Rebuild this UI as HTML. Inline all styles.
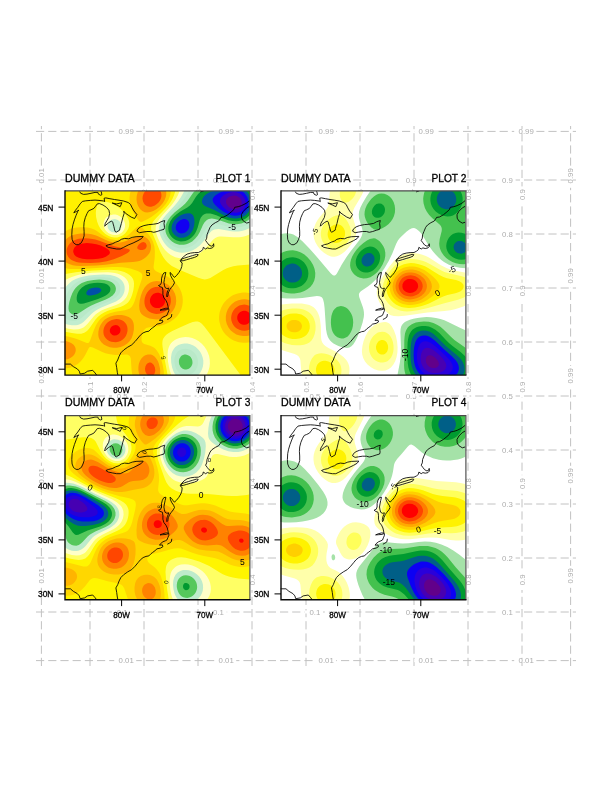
<!DOCTYPE html><html><head><meta charset="utf-8"><title>NCL panel</title>
<style>html,body{margin:0;padding:0;background:#fff}svg{display:block}</style></head><body>
<svg width="612" height="792" viewBox="0 0 612 792">
<defs><clipPath id="clip"><rect x="0" y="0" width="185.0" height="184.2"/></clipPath></defs>
<rect width="612" height="792" fill="#fff"/>
<g stroke="#c2c2c2" stroke-width="1" stroke-dasharray="8.2 4" fill="none"><path d="M36 660.6H576"/><path d="M41.4 666V126"/><path d="M36 612.0H576"/><path d="M90.0 666V126"/><path d="M36 558.0H576"/><path d="M144.0 666V126"/><path d="M36 504.0H576"/><path d="M198.0 666V126"/><path d="M36 450.0H576"/><path d="M252.0 666V126"/><path d="M36 396.0H576"/><path d="M306.0 666V126"/><path d="M36 342.0H576"/><path d="M360.0 666V126"/><path d="M36 288.0H576"/><path d="M414.0 666V126"/><path d="M36 234.0H576"/><path d="M468.0 666V126"/><path d="M36 180.0H576"/><path d="M522.0 666V126"/><path d="M36 131.4H576"/><path d="M570.6 666V126"/></g><g font-family="'Liberation Sans',sans-serif" font-size="7.8" fill="#adadad" text-anchor="middle"><rect x="114.2" y="659.1" width="22.0" height="3" fill="#fff"/><text x="126.2" y="663.3">0.01</text><rect x="39.9" y="565.8" width="3" height="22.0" fill="#fff"/><text transform="translate(44.1 575.8) rotate(-90)">0.01</text><rect x="214.2" y="659.1" width="22.0" height="3" fill="#fff"/><text x="226.2" y="663.3">0.01</text><rect x="39.9" y="465.8" width="3" height="22.0" fill="#fff"/><text transform="translate(44.1 475.8) rotate(-90)">0.01</text><rect x="314.2" y="659.1" width="22.0" height="3" fill="#fff"/><text x="326.2" y="663.3">0.01</text><rect x="39.9" y="365.8" width="3" height="22.0" fill="#fff"/><text transform="translate(44.1 375.8) rotate(-90)">0.01</text><rect x="414.2" y="659.1" width="22.0" height="3" fill="#fff"/><text x="426.2" y="663.3">0.01</text><rect x="39.9" y="265.8" width="3" height="22.0" fill="#fff"/><text transform="translate(44.1 275.8) rotate(-90)">0.01</text><rect x="514.2" y="659.1" width="22.0" height="3" fill="#fff"/><text x="526.2" y="663.3">0.01</text><rect x="39.9" y="165.8" width="3" height="22.0" fill="#fff"/><text transform="translate(44.1 175.8) rotate(-90)">0.01</text><rect x="112.0" y="610.5" width="18.5" height="3" fill="#fff"/><text x="122.2" y="614.7">0.1</text><rect x="88.5" y="571.5" width="3" height="18.5" fill="#fff"/><text transform="translate(92.7 579.8) rotate(-90)">0.1</text><rect x="208.2" y="610.5" width="18.5" height="3" fill="#fff"/><text x="218.5" y="614.7">0.1</text><rect x="88.5" y="475.2" width="3" height="18.5" fill="#fff"/><text transform="translate(92.7 483.5) rotate(-90)">0.1</text><rect x="304.6" y="610.5" width="18.5" height="3" fill="#fff"/><text x="314.8" y="614.7">0.1</text><rect x="88.5" y="378.9" width="3" height="18.5" fill="#fff"/><text transform="translate(92.7 387.2) rotate(-90)">0.1</text><rect x="400.8" y="610.5" width="18.5" height="3" fill="#fff"/><text x="411.1" y="614.7">0.1</text><rect x="88.5" y="282.7" width="3" height="18.5" fill="#fff"/><text transform="translate(92.7 290.9) rotate(-90)">0.1</text><rect x="497.1" y="610.5" width="18.5" height="3" fill="#fff"/><text x="507.4" y="614.7">0.1</text><rect x="88.5" y="186.4" width="3" height="18.5" fill="#fff"/><text transform="translate(92.7 194.6) rotate(-90)">0.1</text><rect x="112.0" y="556.5" width="18.5" height="3" fill="#fff"/><text x="122.2" y="560.7">0.2</text><rect x="142.5" y="571.5" width="3" height="18.5" fill="#fff"/><text transform="translate(146.7 579.8) rotate(-90)">0.2</text><rect x="208.2" y="556.5" width="18.5" height="3" fill="#fff"/><text x="218.5" y="560.7">0.2</text><rect x="142.5" y="475.2" width="3" height="18.5" fill="#fff"/><text transform="translate(146.7 483.5) rotate(-90)">0.2</text><rect x="304.6" y="556.5" width="18.5" height="3" fill="#fff"/><text x="314.8" y="560.7">0.2</text><rect x="142.5" y="378.9" width="3" height="18.5" fill="#fff"/><text transform="translate(146.7 387.2) rotate(-90)">0.2</text><rect x="400.8" y="556.5" width="18.5" height="3" fill="#fff"/><text x="411.1" y="560.7">0.2</text><rect x="142.5" y="282.7" width="3" height="18.5" fill="#fff"/><text transform="translate(146.7 290.9) rotate(-90)">0.2</text><rect x="497.1" y="556.5" width="18.5" height="3" fill="#fff"/><text x="507.4" y="560.7">0.2</text><rect x="142.5" y="186.4" width="3" height="18.5" fill="#fff"/><text transform="translate(146.7 194.6) rotate(-90)">0.2</text><rect x="112.0" y="502.5" width="18.5" height="3" fill="#fff"/><text x="122.2" y="506.7">0.3</text><rect x="196.5" y="571.5" width="3" height="18.5" fill="#fff"/><text transform="translate(200.7 579.8) rotate(-90)">0.3</text><rect x="208.2" y="502.5" width="18.5" height="3" fill="#fff"/><text x="218.5" y="506.7">0.3</text><rect x="196.5" y="475.2" width="3" height="18.5" fill="#fff"/><text transform="translate(200.7 483.5) rotate(-90)">0.3</text><rect x="304.6" y="502.5" width="18.5" height="3" fill="#fff"/><text x="314.8" y="506.7">0.3</text><rect x="196.5" y="378.9" width="3" height="18.5" fill="#fff"/><text transform="translate(200.7 387.2) rotate(-90)">0.3</text><rect x="400.8" y="502.5" width="18.5" height="3" fill="#fff"/><text x="411.1" y="506.7">0.3</text><rect x="196.5" y="282.7" width="3" height="18.5" fill="#fff"/><text transform="translate(200.7 290.9) rotate(-90)">0.3</text><rect x="497.1" y="502.5" width="18.5" height="3" fill="#fff"/><text x="507.4" y="506.7">0.3</text><rect x="196.5" y="186.4" width="3" height="18.5" fill="#fff"/><text transform="translate(200.7 194.6) rotate(-90)">0.3</text><rect x="112.0" y="448.5" width="18.5" height="3" fill="#fff"/><text x="122.2" y="452.7">0.4</text><rect x="250.5" y="571.5" width="3" height="18.5" fill="#fff"/><text transform="translate(254.7 579.8) rotate(-90)">0.4</text><rect x="208.2" y="448.5" width="18.5" height="3" fill="#fff"/><text x="218.5" y="452.7">0.4</text><rect x="250.5" y="475.2" width="3" height="18.5" fill="#fff"/><text transform="translate(254.7 483.5) rotate(-90)">0.4</text><rect x="304.6" y="448.5" width="18.5" height="3" fill="#fff"/><text x="314.8" y="452.7">0.4</text><rect x="250.5" y="378.9" width="3" height="18.5" fill="#fff"/><text transform="translate(254.7 387.2) rotate(-90)">0.4</text><rect x="400.8" y="448.5" width="18.5" height="3" fill="#fff"/><text x="411.1" y="452.7">0.4</text><rect x="250.5" y="282.7" width="3" height="18.5" fill="#fff"/><text transform="translate(254.7 290.9) rotate(-90)">0.4</text><rect x="497.1" y="448.5" width="18.5" height="3" fill="#fff"/><text x="507.4" y="452.7">0.4</text><rect x="250.5" y="186.4" width="3" height="18.5" fill="#fff"/><text transform="translate(254.7 194.6) rotate(-90)">0.4</text><rect x="112.0" y="394.5" width="18.5" height="3" fill="#fff"/><text x="122.2" y="398.7">0.5</text><rect x="304.5" y="571.5" width="3" height="18.5" fill="#fff"/><text transform="translate(308.7 579.8) rotate(-90)">0.5</text><rect x="208.2" y="394.5" width="18.5" height="3" fill="#fff"/><text x="218.5" y="398.7">0.5</text><rect x="304.5" y="475.2" width="3" height="18.5" fill="#fff"/><text transform="translate(308.7 483.5) rotate(-90)">0.5</text><rect x="304.6" y="394.5" width="18.5" height="3" fill="#fff"/><text x="314.8" y="398.7">0.5</text><rect x="304.5" y="378.9" width="3" height="18.5" fill="#fff"/><text transform="translate(308.7 387.2) rotate(-90)">0.5</text><rect x="400.8" y="394.5" width="18.5" height="3" fill="#fff"/><text x="411.1" y="398.7">0.5</text><rect x="304.5" y="282.7" width="3" height="18.5" fill="#fff"/><text transform="translate(308.7 290.9) rotate(-90)">0.5</text><rect x="497.1" y="394.5" width="18.5" height="3" fill="#fff"/><text x="507.4" y="398.7">0.5</text><rect x="304.5" y="186.4" width="3" height="18.5" fill="#fff"/><text transform="translate(308.7 194.6) rotate(-90)">0.5</text><rect x="112.0" y="340.5" width="18.5" height="3" fill="#fff"/><text x="122.2" y="344.7">0.6</text><rect x="358.5" y="571.5" width="3" height="18.5" fill="#fff"/><text transform="translate(362.7 579.8) rotate(-90)">0.6</text><rect x="208.2" y="340.5" width="18.5" height="3" fill="#fff"/><text x="218.5" y="344.7">0.6</text><rect x="358.5" y="475.2" width="3" height="18.5" fill="#fff"/><text transform="translate(362.7 483.5) rotate(-90)">0.6</text><rect x="304.6" y="340.5" width="18.5" height="3" fill="#fff"/><text x="314.8" y="344.7">0.6</text><rect x="358.5" y="378.9" width="3" height="18.5" fill="#fff"/><text transform="translate(362.7 387.2) rotate(-90)">0.6</text><rect x="400.8" y="340.5" width="18.5" height="3" fill="#fff"/><text x="411.1" y="344.7">0.6</text><rect x="358.5" y="282.7" width="3" height="18.5" fill="#fff"/><text transform="translate(362.7 290.9) rotate(-90)">0.6</text><rect x="497.1" y="340.5" width="18.5" height="3" fill="#fff"/><text x="507.4" y="344.7">0.6</text><rect x="358.5" y="186.4" width="3" height="18.5" fill="#fff"/><text transform="translate(362.7 194.6) rotate(-90)">0.6</text><rect x="112.0" y="286.5" width="18.5" height="3" fill="#fff"/><text x="122.2" y="290.7">0.7</text><rect x="412.5" y="571.5" width="3" height="18.5" fill="#fff"/><text transform="translate(416.7 579.8) rotate(-90)">0.7</text><rect x="208.2" y="286.5" width="18.5" height="3" fill="#fff"/><text x="218.5" y="290.7">0.7</text><rect x="412.5" y="475.2" width="3" height="18.5" fill="#fff"/><text transform="translate(416.7 483.5) rotate(-90)">0.7</text><rect x="304.6" y="286.5" width="18.5" height="3" fill="#fff"/><text x="314.8" y="290.7">0.7</text><rect x="412.5" y="378.9" width="3" height="18.5" fill="#fff"/><text transform="translate(416.7 387.2) rotate(-90)">0.7</text><rect x="400.8" y="286.5" width="18.5" height="3" fill="#fff"/><text x="411.1" y="290.7">0.7</text><rect x="412.5" y="282.7" width="3" height="18.5" fill="#fff"/><text transform="translate(416.7 290.9) rotate(-90)">0.7</text><rect x="497.1" y="286.5" width="18.5" height="3" fill="#fff"/><text x="507.4" y="290.7">0.7</text><rect x="412.5" y="186.4" width="3" height="18.5" fill="#fff"/><text transform="translate(416.7 194.6) rotate(-90)">0.7</text><rect x="112.0" y="232.5" width="18.5" height="3" fill="#fff"/><text x="122.2" y="236.7">0.8</text><rect x="466.5" y="571.5" width="3" height="18.5" fill="#fff"/><text transform="translate(470.7 579.8) rotate(-90)">0.8</text><rect x="208.2" y="232.5" width="18.5" height="3" fill="#fff"/><text x="218.5" y="236.7">0.8</text><rect x="466.5" y="475.2" width="3" height="18.5" fill="#fff"/><text transform="translate(470.7 483.5) rotate(-90)">0.8</text><rect x="304.6" y="232.5" width="18.5" height="3" fill="#fff"/><text x="314.8" y="236.7">0.8</text><rect x="466.5" y="378.9" width="3" height="18.5" fill="#fff"/><text transform="translate(470.7 387.2) rotate(-90)">0.8</text><rect x="400.8" y="232.5" width="18.5" height="3" fill="#fff"/><text x="411.1" y="236.7">0.8</text><rect x="466.5" y="282.7" width="3" height="18.5" fill="#fff"/><text transform="translate(470.7 290.9) rotate(-90)">0.8</text><rect x="497.1" y="232.5" width="18.5" height="3" fill="#fff"/><text x="507.4" y="236.7">0.8</text><rect x="466.5" y="186.4" width="3" height="18.5" fill="#fff"/><text transform="translate(470.7 194.6) rotate(-90)">0.8</text><rect x="112.0" y="178.5" width="18.5" height="3" fill="#fff"/><text x="122.2" y="182.7">0.9</text><rect x="520.5" y="571.5" width="3" height="18.5" fill="#fff"/><text transform="translate(524.7 579.8) rotate(-90)">0.9</text><rect x="208.2" y="178.5" width="18.5" height="3" fill="#fff"/><text x="218.5" y="182.7">0.9</text><rect x="520.5" y="475.2" width="3" height="18.5" fill="#fff"/><text transform="translate(524.7 483.5) rotate(-90)">0.9</text><rect x="304.6" y="178.5" width="18.5" height="3" fill="#fff"/><text x="314.8" y="182.7">0.9</text><rect x="520.5" y="378.9" width="3" height="18.5" fill="#fff"/><text transform="translate(524.7 387.2) rotate(-90)">0.9</text><rect x="400.8" y="178.5" width="18.5" height="3" fill="#fff"/><text x="411.1" y="182.7">0.9</text><rect x="520.5" y="282.7" width="3" height="18.5" fill="#fff"/><text transform="translate(524.7 290.9) rotate(-90)">0.9</text><rect x="497.1" y="178.5" width="18.5" height="3" fill="#fff"/><text x="507.4" y="182.7">0.9</text><rect x="520.5" y="186.4" width="3" height="18.5" fill="#fff"/><text transform="translate(524.7 194.6) rotate(-90)">0.9</text><rect x="114.2" y="129.9" width="22.0" height="3" fill="#fff"/><text x="126.2" y="134.1">0.99</text><rect x="569.1" y="565.8" width="3" height="22.0" fill="#fff"/><text transform="translate(573.3 575.8) rotate(-90)">0.99</text><rect x="214.2" y="129.9" width="22.0" height="3" fill="#fff"/><text x="226.2" y="134.1">0.99</text><rect x="569.1" y="465.8" width="3" height="22.0" fill="#fff"/><text transform="translate(573.3 475.8) rotate(-90)">0.99</text><rect x="314.2" y="129.9" width="22.0" height="3" fill="#fff"/><text x="326.2" y="134.1">0.99</text><rect x="569.1" y="365.8" width="3" height="22.0" fill="#fff"/><text transform="translate(573.3 375.8) rotate(-90)">0.99</text><rect x="414.2" y="129.9" width="22.0" height="3" fill="#fff"/><text x="426.2" y="134.1">0.99</text><rect x="569.1" y="265.8" width="3" height="22.0" fill="#fff"/><text transform="translate(573.3 275.8) rotate(-90)">0.99</text><rect x="514.2" y="129.9" width="22.0" height="3" fill="#fff"/><text x="526.2" y="134.1">0.99</text><rect x="569.1" y="165.8" width="3" height="22.0" fill="#fff"/><text transform="translate(573.3 175.8) rotate(-90)">0.99</text></g>
<g transform="translate(64.8 190.9)"><g clip-path="url(#clip)" fill-rule="evenodd"><rect x="0" y="0" width="185.0" height="184.2" fill="#fff000"/><path fill="#ffcb00" d="M66.5 -1.5L66.7 -2.0L106.0 -2.0L106.0 0.0L105.7 2.5L105.3 4.5L103.8 8.5L101.0 13.0L97.5 17.1L92.5 21.7L86.5 26.0L83.0 28.2L79.0 30.2L77.5 30.8L76.0 31.0L75.0 30.7L74.0 29.8L70.5 24.8L67.3 19.0L65.5 14.5L64.8 10.5L64.7 6.5L65.2 2.5ZM73.5 35.5L74.5 35.2L75.5 35.3L76.5 36.0L78.0 37.4L83.0 42.7L85.0 45.1L86.9 48.0L88.3 51.0L89.6 55.5L90.1 60.5L89.9 67.0L88.8 75.5L88.9 77.0L89.5 78.5L90.4 79.5L91.8 80.5L100.5 84.6L104.5 86.8L107.5 88.8L110.0 91.0L112.7 94.0L115.0 97.5L116.7 101.5L117.7 105.5L118.0 108.5L117.9 111.5L117.5 114.5L116.7 117.5L115.7 120.0L114.3 122.5L112.5 125.0L110.5 127.1L108.0 129.2L105.5 130.9L102.5 132.4L99.5 133.7L94.5 135.0L84.5 136.3L81.5 137.2L80.0 138.3L79.0 139.5L78.0 141.5L77.2 144.0L76.8 146.5L76.7 149.0L77.0 150.5L77.9 152.0L79.5 153.0L85.5 154.9L87.5 155.8L89.0 156.7L90.5 157.9L92.0 159.5L94.3 163.0L96.3 168.0L97.9 174.0L99.0 180.5L99.2 186.0L68.2 186.0L67.4 183.0L66.8 179.5L66.0 167.5L65.3 165.5L64.3 164.5L63.0 163.9L61.5 163.7L50.5 164.0L47.0 163.7L44.0 163.2L40.5 162.3L37.5 161.2L28.0 156.6L26.0 156.0L25.0 156.0L24.0 157.0L20.7 163.5L18.6 167.0L16.0 170.3L13.0 173.0L9.5 175.2L6.0 176.5L2.0 177.3L-2.0 177.3L-2.0 144.6L3.2 145.5L8.9 147.0L13.3 148.5L22.0 152.0L23.0 152.2L24.0 151.8L24.5 151.1L25.3 149.5L28.9 139.5L31.1 134.5L32.5 132.0L33.9 130.0L35.5 128.2L37.3 126.5L41.0 124.0L45.0 122.3L50.5 120.8L60.0 119.3L62.5 118.7L65.0 117.6L67.0 115.8L68.5 113.4L69.9 110.0L73.5 98.3L76.9 88.5L77.4 86.5L77.6 85.0L77.3 83.5L76.8 82.5L75.7 81.5L73.5 80.3L70.0 79.0L65.5 77.7L61.5 76.8L57.5 76.3L53.0 76.0L47.5 76.1L15.5 78.0L9.5 78.2L6.0 78.1L3.0 77.8L0.5 77.2L-2.0 76.3L-2.0 42.0L0.5 40.3L3.0 39.0L6.0 37.9L9.0 37.1L12.0 36.6L15.5 36.3L19.0 36.3L22.5 36.6L26.0 37.3L29.5 38.7L32.0 40.2L38.9 45.0L43.5 47.4L46.0 48.3L48.0 48.7L50.5 49.0L52.5 49.0L54.5 48.7L56.5 48.1L58.5 47.3L60.9 46.0L64.2 43.5L71.0 37.1ZM175.3 102.0L178.0 101.7L181.0 101.7L184.0 102.1L187.0 102.8L187.0 150.8L183.5 151.6L181.0 151.9L178.5 151.9L174.0 151.3L169.5 149.9L167.0 148.6L165.0 147.3L163.0 145.7L161.2 144.0L159.5 142.0L158.1 140.0L156.8 137.5L155.9 135.5L154.7 131.0L154.3 128.5L154.3 126.0L154.5 123.5L154.9 121.0L156.5 116.5L157.8 114.0L159.0 112.1L162.2 108.5L166.0 105.5L168.0 104.4L170.5 103.3L173.0 102.5Z"/><path fill="#ff9300" d="M74.3 -1.5L74.6 -2.0L100.8 -2.0L101.3 0.0L101.5 2.0L101.4 4.0L101.0 6.0L99.6 9.5L97.7 12.5L95.0 15.5L92.0 18.0L88.5 20.1L85.5 21.2L82.5 21.6L80.0 21.3L77.5 20.1L75.2 18.0L73.3 15.0L72.2 12.0L71.7 8.5L71.9 5.0L72.8 1.5ZM12.6 43.0L16.0 42.6L20.0 42.5L23.5 42.8L27.0 43.3L32.0 44.9L40.5 48.9L44.0 50.3L48.0 51.4L52.0 51.8L55.5 51.6L59.0 50.9L62.0 49.8L69.0 46.7L72.0 45.7L75.0 45.3L78.0 45.4L80.0 46.0L81.5 46.8L83.0 48.0L84.6 50.0L85.5 52.0L86.1 54.0L86.2 56.0L86.0 58.5L85.4 60.5L84.4 62.5L83.0 64.4L81.0 66.3L79.0 67.8L76.9 69.0L74.5 70.0L72.0 70.6L68.0 71.1L56.0 71.8L40.5 73.8L31.5 74.5L16.0 75.0L11.5 74.8L8.0 74.3L5.0 73.4L2.1 72.0L-0.4 70.0L-2.0 68.0L-2.0 52.3L-0.8 50.5L0.5 49.0L2.1 47.5L4.0 46.2L8.0 44.2ZM88.4 90.5L92.0 90.1L96.0 90.6L99.5 91.8L103.0 93.7L106.0 96.3L108.2 99.0L110.1 102.5L111.1 106.0L111.4 110.0L111.0 113.5L109.8 117.0L108.0 120.2L105.5 123.1L102.5 125.4L99.0 127.1L95.5 128.1L92.0 128.5L88.0 128.2L84.5 127.5L81.0 126.2L78.5 124.7L76.7 123.0L75.4 121.0L74.7 118.5L74.4 114.5L74.9 109.5L76.1 104.5L77.8 100.0L80.0 96.4L82.5 93.6L85.5 91.5ZM177.0 108.5L179.5 108.3L182.0 108.5L184.5 109.1L187.0 110.0L187.0 143.6L184.5 144.5L182.0 145.1L178.5 145.2L175.0 144.7L171.5 143.5L168.5 141.7L166.0 139.5L163.7 136.5L162.0 133.0L161.1 129.5L161.0 125.5L161.6 122.0L162.9 118.5L164.8 115.5L167.1 113.0L170.0 110.9L173.5 109.3ZM49.2 124.5L53.0 124.0L57.0 124.1L60.5 124.8L63.9 126.0L66.1 127.5L67.7 129.5L68.7 132.0L69.1 134.5L69.1 138.5L68.3 143.0L66.9 147.0L65.0 150.1L62.5 152.7L59.5 154.7L56.0 156.2L52.0 156.9L48.5 156.9L45.0 156.3L42.0 155.2L39.0 153.5L36.8 151.5L35.0 149.1L33.9 146.5L33.5 144.0L33.6 140.5L34.4 137.0L35.7 134.0L37.7 131.0L40.0 128.7L42.5 127.0L45.6 125.5ZM-2.0 150.0L-2.0 149.8L-0.5 149.9L2.0 150.3L4.1 151.0L6.3 152.0L7.8 153.0L9.0 154.1L10.0 155.5L10.7 157.0L10.9 158.5L10.9 160.0L10.3 162.0L9.5 163.5L8.3 165.0L7.0 166.2L5.5 167.2L3.5 168.0L1.0 168.5L-2.0 168.4ZM81.3 164.0L83.0 163.6L84.5 163.5L86.0 163.7L87.5 164.2L90.0 165.9L92.1 168.5L93.0 170.1L94.0 172.5L95.1 177.0L95.4 179.5L95.4 182.0L94.8 186.0L75.6 186.0L74.3 183.0L73.6 179.5L73.6 176.0L74.0 173.0L75.1 170.0L76.6 167.5L78.5 165.5L80.0 164.5Z"/><path fill="#ff4a00" d="M82.3 -1.5L83.0 -2.0L93.5 -2.0L95.1 -0.5L96.2 1.5L96.6 3.5L96.6 5.5L96.1 7.5L95.2 9.5L93.7 11.5L92.0 13.2L90.0 14.6L88.0 15.4L86.5 15.8L85.0 15.9L83.5 15.7L82.0 15.1L80.5 14.1L79.5 13.0L78.2 10.5L77.7 7.5L77.9 5.5L78.3 4.0L78.9 2.5L79.8 1.0L81.0 -0.4ZM17.2 47.5L20.5 47.4L24.0 47.5L27.5 48.0L30.5 48.6L34.5 49.8L44.5 53.6L49.5 55.3L54.0 56.4L61.3 57.5L63.5 58.0L64.5 58.5L64.9 59.0L65.0 59.5L64.5 60.5L62.7 62.0L57.1 65.0L49.0 68.3L42.0 70.3L34.5 71.5L25.5 72.0L17.5 71.9L14.1 71.5L11.5 71.0L9.0 70.2L6.7 69.0L4.8 67.5L3.5 66.0L2.5 64.0L1.9 62.0L1.8 60.0L2.0 58.0L2.7 56.0L3.8 54.0L5.0 52.5L7.0 50.8L9.0 49.6L11.5 48.6L14.0 47.9ZM76.8 51.5L78.5 51.2L80.0 51.6L81.0 52.4L81.4 53.0L81.9 54.5L81.7 56.0L80.9 57.5L79.5 58.6L77.5 59.2L75.5 59.1L74.0 58.6L73.0 58.0L72.4 57.0L72.7 55.5L73.6 54.0L75.1 52.5ZM90.8 96.0L93.5 95.9L96.0 96.3L98.5 97.3L101.0 98.9L103.0 100.9L104.4 103.0L105.5 105.5L106.0 108.0L106.0 111.0L105.5 113.5L104.4 116.0L103.1 118.0L101.0 120.0L99.0 121.3L96.5 122.4L94.0 122.9L91.5 123.0L89.0 122.7L86.5 121.9L84.2 120.5L82.5 119.0L81.1 117.0L80.2 115.0L79.7 112.5L79.6 110.0L80.0 107.0L81.0 104.0L82.4 101.5L84.0 99.5L86.0 97.9L88.5 96.6ZM176.8 114.0L179.5 113.7L182.0 114.0L184.5 114.8L187.0 116.2L187.0 137.4L184.5 138.8L182.0 139.6L179.5 139.9L177.0 139.6L174.5 138.9L172.0 137.6L170.1 136.0L168.5 134.0L167.4 132.0L166.6 129.5L166.3 127.0L166.6 124.5L167.3 122.0L168.6 119.5L170.2 117.5L172.1 116.0L174.5 114.7ZM49.1 128.5L51.5 128.2L54.0 128.4L56.5 129.1L58.5 130.1L60.1 131.5L61.5 133.4L62.4 135.5L62.7 137.5L62.7 140.0L62.1 142.5L61.1 145.0L59.6 147.0L58.0 148.6L55.8 150.0L53.5 150.9L51.0 151.3L48.5 151.2L46.5 150.8L44.5 150.1L42.5 148.8L41.0 147.4L39.7 145.5L38.9 143.5L38.6 141.5L38.6 139.5L39.1 137.0L40.0 135.0L41.3 133.0L43.0 131.3L44.9 130.0L47.0 129.1ZM83.5 172.0L84.5 171.7L85.5 171.7L86.5 171.9L87.5 172.5L89.0 174.0L90.1 176.5L90.5 179.5L90.0 182.0L89.5 183.1L88.8 184.0L88.0 184.6L87.0 185.1L86.0 185.2L85.0 185.1L84.0 184.8L83.0 184.2L81.5 182.6L80.5 180.4L80.2 178.0L80.6 175.5L81.6 173.5L82.5 172.6Z"/><path fill="#ff0000" d="M18.0 52.5L22.0 52.2L27.0 52.5L31.5 53.3L36.0 54.6L40.3 56.5L43.3 58.5L44.3 59.5L44.9 60.5L45.1 61.5L44.9 62.5L44.2 63.5L43.5 64.2L41.0 65.8L37.8 67.0L33.5 67.9L28.0 68.3L22.0 68.3L17.5 67.8L14.0 66.9L11.3 65.5L10.2 64.5L9.4 63.5L8.6 61.5L8.4 60.5L8.6 59.0L9.5 56.9L10.2 56.0L11.5 54.9L12.9 54.0L14.5 53.3ZM91.0 102.0L92.5 101.8L94.0 101.9L96.5 102.8L98.0 103.9L98.9 105.0L99.5 106.0L100.1 107.5L100.4 109.0L100.3 110.5L100.0 112.0L99.2 113.5L98.1 115.0L97.0 115.9L94.5 117.0L93.0 117.2L91.5 117.2L90.0 116.8L88.5 116.1L87.5 115.3L86.5 114.2L85.8 113.0L85.3 111.5L85.1 110.0L85.2 108.5L85.6 107.0L86.3 105.5L87.5 104.0L88.5 103.1L89.6 102.5ZM177.6 120.0L179.0 119.8L180.5 119.9L182.0 120.3L183.0 120.8L184.0 121.5L185.0 122.5L185.6 123.5L186.2 125.0L186.4 127.5L186.1 129.0L185.5 130.3L184.0 132.1L182.7 133.0L181.5 133.5L180.0 133.8L178.5 133.8L177.3 133.5L176.0 133.0L174.7 132.0L173.8 131.0L173.0 129.7L172.6 128.5L172.4 127.0L172.5 125.5L172.9 124.0L173.5 123.0L174.3 122.0L175.4 121.0ZM48.7 134.5L51.0 134.2L53.0 134.7L54.5 135.8L55.5 137.5L55.7 139.5L55.2 141.5L54.0 143.0L52.0 144.3L50.0 144.6L49.0 144.5L47.6 144.0L46.0 142.7L45.1 141.0L45.0 139.0L45.7 137.0L46.9 135.5Z"/><path fill="#ffff5f" d="M110.8 -2.0L187.0 -2.0L187.0 73.5L173.0 74.6L168.5 75.4L165.0 76.3L162.0 77.4L158.5 79.1L145.5 87.0L142.5 88.2L140.0 88.5L137.5 88.1L133.5 86.8L114.0 78.7L110.0 76.7L107.0 75.0L104.5 73.2L102.5 71.4L100.5 69.1L98.5 66.3L96.5 62.9L95.0 59.8L90.8 49.5L87.1 41.0L86.4 38.5L86.3 36.0L86.5 34.5L87.1 33.0L87.8 31.5L89.2 29.5L91.9 26.5L101.1 17.0L104.0 13.5L106.1 10.5L107.8 7.5L109.1 4.5L110.1 1.5ZM35.8 11.0L37.0 10.7L38.5 10.5L41.5 10.8L45.0 11.8L49.5 13.8L53.5 16.3L56.5 18.7L59.5 21.7L61.6 24.5L63.3 27.5L64.2 30.0L64.5 32.5L64.3 35.0L63.6 37.5L62.2 40.0L60.2 42.5L58.0 44.3L55.5 45.6L52.5 46.5L49.5 46.6L46.4 46.0L43.5 44.8L40.6 43.0L37.9 40.5L35.5 37.5L33.6 34.0L32.3 30.5L31.3 26.0L31.0 22.0L31.4 18.0L32.4 14.5L33.0 13.4L34.0 12.1ZM39.1 79.0L44.5 78.9L49.0 79.0L52.5 79.4L56.0 80.1L59.5 81.1L62.5 82.5L64.8 84.0L66.9 86.0L68.2 88.0L68.9 90.0L69.2 92.5L69.1 95.5L68.5 99.5L67.4 103.5L66.1 107.0L64.5 109.9L63.2 111.5L62.0 112.7L59.0 114.6L55.5 116.0L47.0 118.5L43.0 119.9L39.3 121.5L36.0 123.5L33.0 126.0L30.7 128.5L25.0 136.8L23.0 139.3L21.5 140.7L19.5 141.9L16.5 142.8L12.5 142.9L7.0 142.2L-2.0 140.4L-2.0 83.5L11.0 81.4L19.5 80.3L28.0 79.6ZM131.0 130.5L133.0 130.6L135.0 131.4L137.0 132.9L139.5 135.7L145.0 142.8L177.2 186.0L103.1 186.0L98.8 162.5L97.8 156.0L97.5 153.0L97.6 151.0L97.9 149.0L98.5 147.5L99.9 145.5L101.5 143.9L104.0 142.1L107.5 140.1L114.5 136.8L124.0 132.6L128.0 131.2Z"/><path fill="#ffffc8" d="M115.7 -2.0L187.0 -2.0L187.0 42.5L184.0 43.9L181.0 45.0L178.0 45.8L174.5 46.3L168.5 46.4L157.0 45.5L154.5 45.7L152.5 46.2L150.5 47.2L148.5 48.7L140.6 57.5L136.5 61.2L134.0 62.9L131.0 64.6L128.5 65.7L125.5 66.7L123.0 67.3L120.0 67.6L117.5 67.6L115.0 67.4L110.5 66.3L108.0 65.2L106.0 64.0L103.0 61.8L100.2 59.0L97.9 56.0L95.5 52.1L93.1 47.0L91.5 42.5L90.8 39.0L90.9 36.0L91.3 34.0L92.1 32.0L94.6 28.0L97.4 24.5L106.5 14.5L110.2 9.5L113.0 4.5ZM46.3 24.0L48.5 23.7L50.5 23.7L52.5 24.2L54.5 25.0L56.0 26.0L57.6 27.5L58.7 29.0L59.7 31.0L60.2 33.0L60.3 35.0L59.9 37.0L59.3 38.5L58.4 40.0L57.1 41.5L55.5 42.7L54.0 43.5L52.0 44.1L50.0 44.2L47.5 43.9L45.5 43.2L43.5 42.0L41.8 40.5L40.5 39.0L39.5 37.0L38.9 35.0L38.7 33.0L39.0 31.0L39.8 29.0L41.0 27.2L42.5 25.8L44.5 24.6ZM33.6 81.5L43.0 81.4L46.5 81.6L50.0 82.2L53.0 82.9L55.5 83.8L57.8 85.0L60.0 86.6L61.8 88.5L63.1 90.5L63.8 92.5L64.3 95.0L64.2 98.0L63.7 101.0L62.7 104.0L61.4 106.5L60.0 108.4L58.5 109.9L57.0 111.1L55.0 112.3L51.2 114.0L39.5 118.3L36.5 119.7L33.5 121.5L31.0 123.4L28.8 125.5L23.0 132.5L21.0 134.6L19.0 136.3L17.0 137.4L15.5 137.9L13.5 138.4L9.0 138.5L3.5 137.8L-2.0 136.2L-2.0 91.2L0.5 89.2L3.5 87.5L7.0 86.0L11.5 84.5L16.0 83.4L21.5 82.5L27.0 81.9ZM116.9 146.5L120.5 146.2L124.0 146.4L127.5 147.2L131.0 148.6L134.0 150.4L137.0 152.8L139.5 155.5L141.5 158.5L143.0 161.5L144.3 165.0L144.9 168.5L145.1 172.5L144.7 176.0L143.7 179.5L142.3 183.0L140.4 186.0L107.2 186.0L106.0 182.9L105.0 179.5L104.1 175.5L103.3 171.0L102.9 167.0L102.8 163.5L103.0 160.5L103.4 158.0L104.1 156.0L105.0 154.0L106.4 152.0L108.0 150.5L110.0 149.0L112.0 148.0L114.5 147.1Z"/><path fill="#c1edcf" d="M120.4 -1.5L120.7 -2.0L187.0 -2.0L187.0 35.7L184.0 37.5L180.5 39.1L177.0 40.0L173.5 40.6L170.0 40.7L166.5 40.4L154.0 38.2L151.5 38.3L149.5 38.7L147.0 39.9L145.0 41.8L138.6 50.5L135.0 54.5L131.5 57.3L128.0 59.4L125.5 60.4L123.0 61.2L120.0 61.7L117.5 61.8L115.0 61.7L112.5 61.2L110.0 60.4L107.5 59.2L104.5 57.3L102.0 55.0L99.5 52.0L97.3 48.5L95.7 45.0L94.6 41.5L94.3 38.0L94.6 35.0L95.9 31.5L98.2 27.5L101.5 23.5L109.9 14.5L113.2 10.5L116.2 6.0ZM47.5 28.5L50.0 28.2L52.5 28.8L53.7 29.5L54.9 30.5L56.2 32.5L56.5 33.5L56.7 35.0L56.5 36.5L56.2 37.5L54.9 39.5L53.7 40.5L52.5 41.1L50.0 41.6L48.5 41.4L47.0 41.0L44.8 39.5L44.0 38.5L43.1 37.0L42.8 36.0L42.7 34.5L42.9 33.0L43.3 32.0L44.0 30.9L45.0 29.8L46.3 29.0ZM29.6 84.0L38.5 83.7L42.0 83.8L45.5 84.2L48.5 84.9L51.0 85.7L53.5 86.8L55.3 88.0L57.0 89.6L58.4 91.5L59.3 93.5L59.8 95.5L59.9 98.0L59.6 100.5L58.7 103.0L57.6 105.0L56.4 106.5L54.9 108.0L51.2 110.5L47.5 112.2L36.6 116.5L33.6 118.0L31.0 119.5L28.9 121.0L26.6 123.0L19.0 130.8L17.0 132.3L15.0 133.3L13.0 134.0L11.0 134.4L7.0 134.4L2.4 133.5L0.0 132.6L-2.0 131.5L-2.0 100.7L-0.1 97.5L2.2 94.5L4.7 92.0L7.5 89.9L11.0 88.0L15.0 86.5L19.0 85.5L24.0 84.6ZM116.6 153.0L119.5 152.6L122.5 152.7L125.5 153.4L128.5 154.6L131.0 156.2L133.5 158.5L135.5 161.0L136.8 163.5L137.9 166.5L138.5 169.5L138.5 172.5L138.1 175.5L137.1 178.5L135.6 181.5L133.6 184.0L131.5 186.0L112.3 186.0L110.5 183.8L108.9 181.0L107.3 176.5L106.4 171.5L106.2 166.5L106.8 162.5L107.5 160.6L108.3 159.0L109.3 157.5L110.5 156.2L112.0 155.0L113.5 154.1Z"/><path fill="#b9e9c8" d="M125.6 -1.5L126.0 -2.0L187.0 -2.0L187.0 30.7L184.0 32.9L180.5 34.8L176.5 36.0L172.5 36.6L169.0 36.6L165.0 36.1L155.0 33.5L152.0 32.8L149.5 32.7L147.0 33.0L145.0 33.9L143.0 35.6L141.0 38.2L137.1 45.0L134.5 48.7L131.4 52.0L129.5 53.5L127.5 54.8L125.5 55.8L123.0 56.7L120.5 57.3L118.0 57.6L115.5 57.5L113.0 57.1L110.5 56.3L108.5 55.4L105.5 53.4L103.0 51.1L100.9 48.5L99.2 45.5L98.1 42.5L97.5 39.5L97.5 36.5L98.2 33.5L99.7 30.0L102.4 26.0L106.0 21.9L113.7 14.5L116.9 11.0L119.2 8.0L123.5 1.4ZM48.9 34.0L50.0 33.8L50.6 34.0L51.2 34.5L51.5 35.5L51.0 36.6L50.3 37.0L49.5 37.0L48.5 36.5L48.1 35.5L48.1 35.0L48.3 34.5ZM28.1 86.5L35.5 86.1L42.0 86.5L44.5 86.9L47.0 87.6L49.3 88.5L51.0 89.5L52.5 90.7L53.7 92.0L54.6 93.5L55.4 95.5L55.6 97.5L55.5 99.5L54.9 101.5L54.0 103.3L53.0 104.7L51.7 106.0L50.0 107.4L48.0 108.6L44.1 110.5L33.0 115.0L27.5 118.0L23.4 121.0L17.0 126.8L14.0 128.7L11.0 129.8L8.0 130.0L5.0 129.5L2.0 128.2L0.5 127.1L-0.5 126.1L-2.0 123.6L-2.0 113.8L-0.9 110.5L0.8 106.0L2.7 102.0L4.3 99.0L6.1 96.5L8.3 94.0L10.8 92.0L13.3 90.5L16.5 89.0L19.8 88.0L23.5 87.2ZM118.5 158.0L121.0 157.9L123.5 158.3L126.0 159.2L128.0 160.5L130.0 162.4L131.5 164.5L132.4 166.5L133.1 169.0L133.3 171.5L133.0 174.0L132.3 176.5L130.9 179.0L129.2 181.0L127.0 182.7L125.0 183.7L122.5 184.3L120.0 184.4L118.0 184.0L116.0 183.1L114.0 181.5L112.5 179.7L111.3 177.5L110.4 175.0L109.8 172.5L109.6 169.5L109.8 167.0L110.5 164.6L111.5 162.6L113.0 160.7L114.5 159.5L116.5 158.5Z"/><path fill="#50c65a" d="M131.5 -1.5L132.1 -2.0L187.0 -2.0L187.0 26.0L184.0 28.9L180.5 31.1L176.5 32.7L172.0 33.3L168.0 33.2L164.0 32.5L160.5 31.4L153.0 28.8L150.0 28.0L147.0 27.7L144.0 28.1L142.5 28.8L141.5 29.5L139.6 31.5L138.1 34.0L135.0 41.0L133.0 44.5L130.5 47.7L127.4 50.5L125.5 51.7L123.5 52.7L121.5 53.4L119.0 53.8L116.5 53.9L114.5 53.8L112.0 53.1L110.0 52.3L107.5 50.8L105.0 48.6L103.0 46.1L101.7 43.5L100.8 41.0L100.5 38.0L100.7 35.0L101.5 32.5L103.2 29.0L106.0 25.4L110.0 21.4L117.8 15.0L120.5 12.5L123.0 9.5L128.2 2.0ZM28.8 89.0L34.5 88.7L39.5 89.0L43.5 89.8L45.4 90.5L47.0 91.3L48.5 92.5L49.5 93.5L50.2 94.5L50.8 96.0L51.1 97.5L51.0 99.0L50.6 100.5L49.9 102.0L47.8 104.5L44.5 106.9L41.0 108.6L31.0 112.5L26.0 114.8L22.0 117.0L15.5 121.4L13.5 122.6L11.5 123.4L9.5 123.7L8.0 123.5L6.5 122.9L5.0 121.6L4.1 120.0L3.7 117.5L3.8 115.0L4.5 111.0L6.0 106.0L7.6 102.0L9.3 99.0L10.8 97.0L12.8 95.0L14.7 93.5L17.0 92.2L19.7 91.0L22.5 90.1ZM118.3 164.0L119.5 163.7L121.0 163.7L122.5 164.0L123.7 164.5L125.0 165.4L126.0 166.4L126.7 167.5L127.4 169.0L127.6 170.5L127.7 172.0L127.4 173.5L126.7 175.0L126.0 176.1L125.0 177.1L124.0 177.8L122.5 178.4L121.5 178.6L120.0 178.6L118.5 178.2L117.5 177.6L115.8 176.0L114.5 173.5L114.2 172.0L114.1 170.5L114.2 169.0L114.7 167.5L116.0 165.5L117.0 164.7Z"/><path fill="#009434" d="M139.6 -1.5L140.7 -2.0L183.1 -2.0L185.4 0.5L187.0 3.0L187.0 20.9L185.7 23.0L184.0 25.0L182.3 26.5L180.5 27.8L178.5 28.8L176.0 29.7L174.0 30.2L171.5 30.4L167.5 30.2L163.5 29.3L159.5 27.8L151.5 24.3L147.5 23.0L145.5 22.7L143.5 22.5L141.5 22.7L140.0 23.1L139.0 23.6L137.7 24.5L136.1 26.5L135.0 29.2L132.9 36.5L131.5 40.0L130.5 42.0L129.2 44.0L126.5 46.9L124.5 48.3L122.5 49.4L120.5 50.1L118.5 50.4L116.0 50.5L114.0 50.2L112.0 49.6L110.0 48.6L107.9 47.0L106.1 45.0L104.8 43.0L103.9 40.5L103.5 38.0L103.6 35.5L104.3 33.0L105.5 30.3L108.0 26.9L111.5 23.6L115.5 20.7L122.5 16.5L125.1 14.5L127.3 12.0L131.0 6.0L133.3 3.0L136.1 0.5ZM29.1 92.0L33.0 91.8L37.0 92.0L40.0 92.6L42.5 93.6L44.3 95.0L45.0 96.0L45.5 97.0L45.6 99.0L44.9 101.0L43.1 103.0L41.0 104.6L38.0 106.1L33.2 108.0L24.0 111.1L19.0 112.5L17.0 112.9L15.5 112.9L14.5 112.7L13.5 112.1L12.6 111.0L12.2 110.0L11.9 108.5L11.9 106.5L12.2 104.5L12.8 102.5L13.8 100.5L14.8 99.0L17.2 96.5L20.5 94.4L24.5 92.9Z"/><path fill="#0050a8" d="M152.7 -1.5L154.4 -2.0L178.6 -2.0L180.0 -1.0L182.3 1.0L184.1 3.5L185.6 6.5L186.3 9.5L186.5 13.0L186.0 16.0L184.9 19.0L183.3 21.5L182.0 23.1L180.4 24.5L178.5 25.7L176.5 26.6L174.5 27.2L172.0 27.6L170.0 27.7L167.5 27.4L164.0 26.5L160.5 25.1L149.5 19.2L141.2 15.5L138.7 14.0L137.5 12.4L137.2 11.5L137.1 10.0L137.8 7.5L139.4 5.0L141.8 3.0L144.4 1.5L148.1 0.0ZM121.2 22.5L124.0 22.3L126.0 22.6L127.5 23.5L128.6 25.0L129.4 27.5L129.7 30.5L129.4 34.0L128.7 37.0L127.8 39.5L126.5 41.6L124.9 43.5L123.0 45.1L121.0 46.1L118.5 46.8L116.0 46.9L114.0 46.5L112.0 45.7L110.5 44.7L109.0 43.2L107.9 41.5L107.2 40.0L106.8 38.0L106.8 36.0L107.2 34.0L108.0 32.0L109.2 30.0L110.5 28.4L112.5 26.6L114.5 25.2L116.5 24.1L119.0 23.1ZM27.5 97.0L31.0 96.5L34.0 96.9L35.4 97.5L36.0 98.0L36.4 98.5L36.5 99.5L36.0 100.5L35.0 101.5L33.4 102.5L31.0 103.5L28.5 104.2L26.0 104.6L24.0 104.5L22.5 104.0L21.9 103.5L21.5 102.5L21.6 101.5L22.3 100.0L23.3 99.0L24.5 98.2Z"/><path fill="#1200f2" d="M164.5 -1.5L167.5 -1.8L170.5 -1.8L173.0 -1.3L175.4 -0.5L177.5 0.6L179.5 2.2L181.1 4.0L182.4 6.0L183.3 8.5L183.7 11.0L183.7 13.5L183.1 16.0L182.0 18.5L180.5 20.5L178.5 22.4L176.5 23.6L173.5 24.6L170.0 24.9L166.5 24.4L163.0 23.2L159.0 21.0L154.2 17.5L150.4 14.0L149.2 12.5L148.3 11.0L147.8 9.0L148.1 7.5L149.4 5.5L151.1 4.0L154.3 2.0L157.6 0.5L161.0 -0.7ZM117.3 28.5L118.5 28.2L120.0 28.2L121.5 28.5L122.5 29.1L123.5 30.1L124.2 31.5L124.6 33.0L124.6 34.5L124.4 36.0L123.9 37.5L123.1 39.0L122.0 40.4L121.0 41.2L119.5 42.0L118.0 42.4L116.5 42.5L114.5 42.0L113.5 41.5L112.4 40.5L111.2 38.5L111.0 37.5L110.9 36.0L111.5 33.6L112.8 31.5L115.0 29.6Z"/><path fill="#3e00be" d="M165.2 1.5L167.5 1.2L169.5 1.1L171.5 1.4L173.7 2.0L175.5 2.9L177.1 4.0L178.5 5.5L179.5 7.0L180.2 8.5L180.6 10.5L180.7 12.5L180.4 14.5L179.6 16.5L178.6 18.0L177.2 19.5L175.5 20.6L173.0 21.6L170.5 21.9L168.0 21.7L165.5 21.0L162.5 19.5L159.8 17.5L157.8 15.5L156.0 13.0L155.3 11.0L155.2 9.5L155.5 8.0L156.4 6.5L157.8 5.0L159.9 3.5L162.5 2.3Z"/><path fill="#62008c" d="M166.8 5.0L169.5 4.7L172.0 5.2L174.4 6.5L175.4 7.5L176.1 8.5L176.6 9.5L176.9 11.0L176.9 12.5L176.7 13.5L176.4 14.5L175.5 15.9L174.5 16.8L173.5 17.5L172.0 18.0L170.5 18.2L169.0 18.2L167.5 17.8L165.6 17.0L164.1 16.0L163.0 14.9L162.0 13.5L161.5 12.5L161.2 11.0L161.3 9.5L161.7 8.5L162.4 7.5L163.5 6.5L165.0 5.6Z"/></g><g clip-path="url(#clip)" fill="none" stroke="#000" stroke-width="0.85" stroke-linejoin="round"><path d="M11.3 53.8L8.7 51.9L7.3 48.4L7.0 43.9L7.3 38.1L8.2 33.6L9.6 29.0L11.3 24.4L13.0 20.4L14.0 19.3L11.9 20.4L9.0 21.9L10.7 19.3L13.0 16.4L15.3 13.0L17.6 10.5L21.0 9.9L25.6 9.5L30.2 9.2L34.2 9.5L38.8 10.1L39.9 10.7L39.3 7.3L41.1 7.0L45.1 7.8L49.6 8.6L54.2 9.3L58.8 10.1L63.4 11.6L65.7 13.5L67.4 17.0L69.2 20.1L72.1 23.7L69.8 27.6L66.4 26.2L63.4 24.2L60.5 22.2L59.0 20.3L59.3 22.7L58.0 26.6L56.6 32.5L55.1 37.4L54.8 39.3L51.4 41.3L50.2 40.4L49.1 35.8L47.9 31.3L46.8 30.1L43.9 31.8L41.1 34.1L39.9 35.3L40.5 32.4L42.2 29.6L43.9 26.7L44.8 22.7L44.1 19.3L41.6 16.4L38.2 14.1L34.8 12.7L32.5 13.0L30.8 15.3L29.1 17.5L26.2 18.9L23.9 19.8L22.2 22.7L20.5 26.7L19.3 31.3L19.0 35.8L19.3 40.4L19.3 45.0L18.2 48.4L16.5 51.9L13.6 53.8ZM47.4 12.1L51.9 13.0L57.1 11.8L55.4 15.8L51.9 14.1ZM14.8 0.6L15.9 2.4L18.8 3.5L22.2 3.2L26.2 2.4L30.2 1.5L33.1 1.5L33.6 3.2L35.9 4.4L37.1 3.8L36.5 1.0L35.9 0.0M41.1 54.9L43.9 53.8L47.4 53.0L50.8 51.3L54.2 50.1L56.5 48.4L59.9 47.5L63.9 47.9L67.4 46.5L71.3 45.8L78.4 45.5L76.7 47.7L73.2 49.7L68.3 52.1L63.4 54.1L58.5 56.6L55.4 58.1L51.9 58.1L47.4 57.3L43.3 56.4ZM72.1 40.2L73.2 37.9L75.7 36.0L79.1 34.7L84.0 33.7L88.9 33.3L93.3 32.5L96.3 30.8L99.9 29.6L99.2 32.5L99.7 36.5L99.2 38.4L95.8 39.4L92.3 40.6L88.9 41.4L86.0 40.6L82.1 40.6L78.1 41.2L74.7 41.8ZM185.0 9.5L181.4 12.4L176.8 14.7L173.4 15.8L169.9 16.4L169.0 18.7L166.5 21.0L163.1 23.8L159.1 26.1L156.2 26.5L155.1 28.4L153.9 30.1L150.5 31.8L147.1 34.1L145.3 36.4L143.6 40.4L142.2 43.9L141.9 47.3L140.8 49.6L142.5 51.9L144.2 54.1L146.5 55.3L148.2 54.7L148.8 52.8L149.1 55.3L147.6 57.0L144.8 57.6L142.5 57.0L140.8 58.1L138.5 56.4L138.0 58.8L136.1 60.3L133.6 61.6L129.7 61.7L125.8 62.2L122.3 63.2L119.4 65.2L117.0 67.6L115.5 69.6L116.0 71.1L117.4 72.0L117.0 75.5L116.0 78.4L114.0 81.8L111.6 84.8L109.6 86.5L108.1 84.8L106.7 82.8L105.2 81.6L105.7 84.3L107.1 87.2L108.8 89.6L109.7 91.9L108.4 94.3L106.5 96.7L105.0 98.7L103.5 102.1L103.0 105.1L102.1 106.1L101.9 104.1L102.5 101.2L103.5 98.7L104.0 97.2L102.1 97.7L100.3 96.7L99.6 94.3L99.1 91.4L99.6 88.4L100.3 85.0L101.1 81.6L99.1 82.0L97.6 84.5L96.7 87.9L96.7 91.4L95.7 93.8L93.7 94.6L95.2 95.8L97.6 96.6L98.1 99.7L98.1 103.6L99.1 107.0L101.1 109.5L102.5 112.4L103.2 115.4L103.5 117.5L101.1 117.3L97.6 118.3L95.2 119.3L98.1 119.1L101.6 118.8L104.0 117.8L104.0 119.8L103.0 122.2L102.1 124.4L100.6 125.2L98.1 126.2L95.7 128.1L94.7 129.6L97.6 129.3L98.1 131.1L95.7 132.5L92.2 133.2L90.3 135.0L87.8 136.9L86.3 138.0L84.1 140.3L81.2 140.8L78.3 142.0L75.5 144.3L73.2 147.1L70.3 150.6L66.9 154.0L62.9 156.3L58.9 159.1L56.0 162.0L54.3 165.4L52.9 169.1L51.1 172.3L51.9 176.8L52.5 181.4L53.1 184.2M107.0 123.2L106.5 126.2L104.5 127.6L102.5 128.6M117.0 68.1L119.9 67.1L123.8 65.9L127.7 64.7L131.7 63.5L133.4 63.7L132.6 65.2L129.7 66.5L125.8 67.6L121.9 68.8L118.4 69.8L116.0 70.1ZM185.0 15.3L181.9 17.0L178.5 20.4L176.6 23.8L176.8 27.3L178.5 30.1L181.9 32.2L185.0 31.3M0.0 173.2L5.6 173.2L8.5 175.7L12.5 178.0L14.5 180.3L15.3 183.1L19.9 182.3L22.8 180.3L27.9 179.4L30.2 182.0L31.9 184.2M135.6 1.0L139.0 0.0"/></g><g font-family="'Liberation Sans',sans-serif" font-size="8.5" fill="#000" text-anchor="middle"><text transform="translate(18.5 79.5) rotate(0)" y="3.1" font-size="8.5">5</text><text transform="translate(83.2 82.1) rotate(0)" y="3.1" font-size="8.5">5</text><text transform="translate(9.5 125.1) rotate(0)" y="3.1" font-size="8.5">-5</text><text transform="translate(167.3 35.6) rotate(0)" y="3.1" font-size="8.5">-5</text><text transform="translate(98.6 166.8) rotate(-100)" y="2.2" font-size="6.0">5</text></g></g><g transform="translate(65.0 190.9)"><path d="M0 0H184.9V184.2" fill="none" stroke="#4a4a4a" stroke-width="1.15"/><path d="M0 -0.6V184.2H185.5" fill="none" stroke="#0a0a0a" stroke-width="1.4"/><g stroke="#000" stroke-width="1"><path d="M-6.5 16.2H0"/><path d="M-6.5 70.2H0"/><path d="M-6.5 124.3H0"/><path d="M-6.5 178.3H0"/><path d="M56.6 184.2V190.5"/><path d="M139.8 184.2V190.5"/></g><g font-family="'Liberation Sans',sans-serif" fill="#000" stroke="#000" stroke-width="0.3"><text x="-27" y="19.8" font-size="9" textLength="15.4" lengthAdjust="spacingAndGlyphs">45N</text><text x="-27" y="73.8" font-size="9" textLength="15.4" lengthAdjust="spacingAndGlyphs">40N</text><text x="-27" y="127.8" font-size="9" textLength="15.4" lengthAdjust="spacingAndGlyphs">35N</text><text x="-27" y="181.9" font-size="9" textLength="15.4" lengthAdjust="spacingAndGlyphs">30N</text><text x="48.3" y="202.6" font-size="9" textLength="16.6" lengthAdjust="spacingAndGlyphs">80W</text><text x="131.5" y="202.6" font-size="9" textLength="16.6" lengthAdjust="spacingAndGlyphs">70W</text><text x="0" y="-9.2" font-size="10.7" textLength="69.7" lengthAdjust="spacingAndGlyphs">DUMMY DATA</text><text x="150.5" y="-9.2" font-size="10.7" textLength="34.8" lengthAdjust="spacingAndGlyphs">PLOT 1</text></g></g>
<g transform="translate(280.4 190.9)"><g clip-path="url(#clip)" fill-rule="evenodd"><rect x="0" y="0" width="185.0" height="184.2" fill="#ffffff"/><path fill="#ffffaa" d="M49.9 -2.0L83.7 -2.0L82.8 1.0L81.4 4.0L79.5 7.5L74.1 16.5L73.0 19.0L72.4 21.0L72.2 23.5L72.5 26.5L75.2 35.5L75.9 39.5L76.0 41.5L75.7 43.5L74.6 47.0L73.1 50.0L70.7 53.5L67.5 57.4L64.5 60.5L61.5 62.9L59.0 64.4L56.5 65.4L54.0 65.8L52.5 65.8L50.5 65.5L47.0 64.2L43.5 61.9L40.3 59.0L37.5 55.5L35.1 51.5L33.6 47.5L33.0 43.5L33.0 40.5L33.5 37.5L34.4 34.5L35.7 31.5L37.2 29.0L39.0 26.5L45.8 18.5L47.0 16.6L47.8 15.0L48.6 11.5L49.2 2.5ZM127.8 62.5L131.5 62.2L135.0 62.4L138.5 62.9L142.0 63.8L145.5 65.1L148.5 66.7L160.5 74.3L163.5 75.9L166.5 77.3L170.0 78.6L173.5 79.5L187.0 82.2L187.0 113.7L183.0 115.5L178.5 117.2L174.5 118.4L170.0 119.3L164.0 120.2L147.0 121.7L124.5 124.9L118.0 125.4L113.5 125.2L110.5 124.3L109.0 123.5L107.5 122.4L104.5 119.3L101.6 115.5L99.2 111.5L97.6 108.0L96.6 104.5L96.3 101.5L96.6 98.5L97.3 95.5L99.5 90.5L103.3 84.0L109.0 75.7L113.5 70.2L116.5 67.3L120.0 65.0L124.0 63.3ZM6.1 113.0L11.5 112.6L17.0 112.5L21.5 112.7L25.5 113.3L29.0 114.2L31.5 115.3L33.5 116.6L35.4 118.5L36.8 120.5L38.0 123.0L38.9 125.5L39.6 128.5L40.4 135.0L40.7 147.0L41.1 149.5L41.9 151.5L43.3 153.5L45.0 155.0L48.1 157.0L56.0 161.2L59.8 163.5L63.1 166.0L65.9 169.0L66.9 170.5L67.9 172.5L68.6 174.5L69.0 176.5L69.1 178.5L69.0 181.0L68.6 183.5L67.9 186.0L22.1 186.0L21.3 183.0L20.8 180.0L20.0 169.5L19.5 167.5L18.3 165.5L16.5 164.1L14.2 163.0L3.5 159.8L-2.0 157.7L-2.0 114.5L1.5 113.7ZM100.8 131.5L104.0 131.1L105.5 131.2L107.0 131.6L108.5 132.4L109.5 133.2L111.5 135.5L113.6 139.5L115.5 144.8L116.7 150.5L117.2 156.5L117.0 161.5L116.2 166.0L114.9 170.0L113.0 173.6L110.5 176.5L108.0 178.3L105.0 179.5L101.5 179.9L98.0 179.5L94.0 178.3L90.5 176.3L87.1 173.5L84.6 170.5L82.8 167.0L81.8 163.5L81.5 160.0L82.0 155.0L83.2 150.0L85.2 145.0L87.5 140.9L90.5 137.2L93.5 134.7L97.0 132.7Z"/><path fill="#ffff5a" d="M60.4 -2.0L76.0 -2.0L76.0 -0.5L75.5 1.7L74.6 4.0L73.4 6.0L71.8 8.0L70.0 9.6L68.0 11.0L66.0 11.7L64.5 11.8L63.0 11.3L62.0 10.5L60.9 9.0L59.8 6.5L59.4 4.5L59.4 2.0L59.7 0.0ZM55.8 24.5L58.5 24.0L60.0 24.1L61.0 24.4L63.0 25.7L65.0 27.7L67.5 31.4L69.5 35.5L70.4 39.0L70.6 42.5L70.1 45.5L68.8 48.5L67.0 51.4L64.7 54.0L62.0 56.3L59.5 57.7L57.0 58.5L54.0 58.7L51.0 58.2L48.5 57.1L46.0 55.3L44.0 53.2L42.2 50.5L41.2 48.0L40.5 45.0L40.4 42.0L40.9 39.0L41.8 36.5L43.1 34.0L45.0 31.5L47.5 29.1L50.0 27.3L53.0 25.6ZM127.0 68.5L130.5 68.2L134.5 68.3L138.0 68.9L142.0 69.9L145.5 71.2L148.5 72.6L159.5 78.9L164.0 81.0L169.5 82.7L181.5 85.3L184.5 86.3L187.0 87.6L187.0 104.3L185.0 105.7L183.0 106.8L177.5 108.9L164.0 112.4L147.5 117.2L137.5 119.4L130.0 120.4L126.5 120.5L123.5 120.3L120.5 119.9L118.0 119.2L115.5 118.2L113.5 117.2L110.5 115.0L107.9 112.5L105.6 109.5L103.7 106.0L102.7 103.0L102.1 99.5L102.1 96.5L102.8 93.0L104.4 88.5L106.9 84.0L110.0 79.5L113.5 75.5L116.5 72.9L120.0 70.7L123.5 69.3ZM12.0 117.5L16.0 117.5L19.5 117.8L23.0 118.6L26.0 119.8L28.5 121.3L30.5 123.0L32.5 125.5L33.7 128.0L34.8 131.5L35.2 135.0L35.1 139.0L34.3 143.0L33.0 146.5L31.1 149.5L29.0 151.5L26.5 152.9L23.5 153.8L20.0 154.3L16.0 154.4L11.5 154.0L7.5 153.2L4.0 152.1L1.0 150.7L-2.0 148.7L-2.0 121.8L1.0 120.1L4.0 118.9L8.0 118.0ZM99.8 141.0L102.0 140.8L104.5 141.2L106.5 142.0L108.5 143.6L110.1 145.5L111.5 148.0L112.5 151.0L113.1 154.5L113.2 158.0L112.8 161.0L112.0 163.9L110.7 166.5L109.0 168.7L107.0 170.3L105.0 171.2L102.5 171.7L100.0 171.6L97.5 170.9L95.0 169.6L93.1 168.0L91.4 166.0L90.0 163.6L89.1 161.0L88.7 158.5L88.6 155.5L89.1 152.5L90.1 149.5L91.5 147.0L93.0 145.0L95.3 143.0L97.5 141.7ZM38.7 162.5L41.0 162.3L43.5 162.6L46.0 163.1L48.5 163.9L51.0 165.0L53.5 166.5L55.5 168.0L57.1 169.5L58.7 171.5L59.8 173.5L60.5 175.5L60.9 177.5L61.1 179.5L60.9 182.0L60.4 184.0L59.6 186.0L30.3 186.0L29.1 182.5L28.6 179.0L28.8 175.0L29.8 171.0L31.5 167.5L33.5 165.0L34.5 164.2L36.0 163.3Z"/><path fill="#fff200" d="M55.3 33.5L57.0 33.4L58.5 33.6L60.0 34.2L61.5 35.2L63.0 36.9L63.9 38.5L64.5 40.2L64.7 42.0L64.6 44.0L64.2 45.5L63.2 47.5L62.1 49.0L60.5 50.4L59.0 51.3L57.5 51.8L55.5 52.1L54.0 51.9L52.5 51.5L51.0 50.7L49.7 49.5L48.8 48.5L48.0 47.0L47.5 45.5L47.2 43.5L47.4 41.5L47.8 40.0L48.4 38.5L49.4 37.0L50.5 35.9L52.0 34.8L53.5 34.0ZM127.1 72.5L130.5 72.2L134.0 72.4L137.5 73.0L141.0 74.0L144.5 75.4L147.7 77.0L158.5 83.8L163.0 86.1L166.5 87.3L175.5 89.2L179.0 90.3L181.1 91.5L182.6 93.0L183.1 94.0L183.3 95.0L183.0 97.0L182.1 98.5L181.1 99.5L179.7 100.5L178.0 101.4L175.0 102.4L167.0 104.2L163.5 105.3L160.0 106.8L148.6 112.5L144.5 114.1L140.5 115.4L134.5 116.7L128.5 117.1L123.5 116.6L121.0 116.0L118.5 115.1L115.5 113.5L112.9 111.5L110.5 109.0L108.4 106.0L107.0 103.0L106.1 99.5L106.0 96.5L106.3 93.0L107.4 89.5L109.3 85.5L111.6 82.0L114.3 79.0L117.0 76.7L120.0 74.8L123.5 73.3ZM13.2 122.5L16.0 122.6L18.6 123.0L21.0 123.7L23.5 125.0L25.5 126.5L27.0 128.1L28.2 130.0L29.1 132.5L29.4 135.0L29.3 137.5L28.6 140.0L27.5 142.1L26.0 144.0L24.0 145.6L21.5 146.9L19.0 147.7L15.5 148.2L12.0 148.1L8.5 147.3L5.5 146.1L2.9 144.5L0.7 142.5L-1.0 140.0L-1.9 137.5L-2.0 133.2L-1.7 132.0L-0.6 129.5L1.4 127.0L4.0 125.1L6.5 123.8L9.5 122.9ZM99.6 149.5L101.0 149.1L102.0 149.0L103.5 149.3L104.5 149.8L105.5 150.6L106.5 151.9L107.5 154.4L107.7 156.0L107.7 157.5L107.0 160.1L106.5 161.0L105.5 162.2L104.5 163.0L103.0 163.6L102.0 163.7L100.5 163.5L98.5 162.5L97.0 161.0L95.9 158.5L95.6 157.0L95.6 155.5L96.3 153.0L97.6 151.0L98.5 150.2ZM41.9 170.0L43.5 169.8L45.0 169.8L48.0 170.5L49.5 171.3L51.0 172.4L52.0 173.5L53.0 174.9L53.7 176.5L54.1 178.0L54.2 179.5L54.0 181.0L53.0 183.7L51.2 186.0L38.7 186.0L37.8 185.0L36.7 183.5L35.9 181.5L35.5 179.5L35.6 177.5L36.1 175.5L37.0 173.6L38.3 172.0L40.0 170.8Z"/><path fill="#ffcf00" d="M125.9 76.0L129.0 75.6L132.0 75.6L135.0 75.9L138.0 76.7L141.0 77.8L144.0 79.2L146.9 81.0L149.6 83.0L152.5 85.5L155.5 88.5L157.5 91.0L158.6 93.0L159.1 95.0L159.0 96.5L158.2 98.5L156.8 100.5L154.6 103.0L152.4 105.0L147.5 108.6L145.0 110.1L142.0 111.5L139.0 112.6L136.0 113.4L133.0 113.9L130.5 114.1L127.5 114.0L125.0 113.7L122.5 113.1L120.0 112.1L118.0 111.1L116.0 109.7L114.0 107.8L112.1 105.5L111.0 103.5L110.0 101.0L109.4 98.5L109.2 96.0L109.4 93.5L110.0 91.0L110.9 88.5L112.2 86.0L113.9 83.5L116.0 81.2L118.1 79.5L120.5 78.0L123.0 76.8ZM12.6 129.0L15.5 129.0L18.0 129.9L20.0 131.3L21.1 133.0L21.5 134.3L21.6 135.5L21.1 137.5L20.0 139.0L18.0 140.5L16.5 141.1L15.0 141.3L13.5 141.4L11.5 141.0L10.0 140.5L8.5 139.6L7.4 138.5L6.8 137.5L6.2 136.0L6.2 134.5L6.5 133.2L7.2 132.0L8.1 131.0L9.5 130.0L11.0 129.4Z"/><path fill="#ffaa00" d="M125.9 79.0L129.0 78.5L132.5 78.6L136.0 79.3L139.5 80.6L142.9 82.5L146.1 85.0L148.4 87.5L150.3 90.5L151.2 93.0L151.5 95.5L151.2 97.5L150.2 100.0L148.5 102.5L146.5 104.7L144.0 106.7L141.0 108.5L137.0 110.1L133.0 111.1L129.0 111.3L125.0 110.8L121.5 109.6L118.5 107.8L116.0 105.5L113.9 102.5L112.6 99.0L112.2 95.5L112.6 92.0L113.9 88.5L115.0 86.6L116.2 85.0L119.0 82.3L122.5 80.1Z"/><path fill="#ff7d00" d="M128.1 81.5L131.5 81.5L134.5 82.0L137.3 83.0L140.0 84.5L142.5 86.5L144.3 88.5L145.7 91.0L146.4 93.5L146.5 96.0L146.1 98.0L144.9 100.5L143.4 102.5L141.3 104.5L139.0 106.0L136.0 107.4L133.0 108.2L130.0 108.5L127.0 108.3L124.0 107.5L121.5 106.3L119.1 104.5L117.4 102.5L116.0 100.0L115.3 97.5L115.1 95.0L115.6 92.0L116.5 89.5L118.1 87.0L120.0 85.0L122.5 83.3L125.0 82.2Z"/><path fill="#ff4400" d="M128.2 84.5L130.5 84.4L133.0 84.8L135.0 85.4L137.1 86.5L139.0 88.0L140.3 89.5L141.5 91.5L142.1 93.5L142.3 95.5L141.9 97.5L141.0 99.5L140.0 100.9L138.4 102.5L136.5 103.8L134.5 104.7L132.5 105.3L130.5 105.5L128.0 105.4L125.5 104.9L123.5 104.0L121.5 102.5L120.2 101.0L119.0 99.0L118.4 97.0L118.2 94.5L118.6 92.5L119.4 90.5L120.5 88.8L122.0 87.2L124.0 85.8L126.0 85.0Z"/><path fill="#ff0000" d="M128.8 88.0L130.5 88.0L132.0 88.3L133.5 88.8L134.7 89.5L135.8 90.5L136.6 91.5L137.2 92.5L137.6 94.0L137.7 95.5L137.5 96.5L137.0 97.9L136.2 99.0L135.3 100.0L134.0 100.9L132.5 101.5L131.0 101.9L129.5 102.0L128.0 101.9L126.5 101.4L125.0 100.6L124.0 99.8L122.9 98.5L122.4 97.5L122.0 96.0L122.1 93.5L122.7 92.0L123.5 90.8L124.5 89.8L126.0 88.8L127.5 88.2Z"/><path fill="#a5e2a8" d="M91.4 -2.0L187.0 -2.0L187.0 77.6L179.5 76.9L173.5 75.6L168.5 73.8L163.6 71.0L160.9 69.0L158.1 66.5L155.2 63.5L152.6 60.5L148.2 54.5L142.0 44.1L140.5 42.1L138.5 40.0L136.0 38.1L134.5 37.4L133.5 37.2L131.5 37.3L129.0 38.5L126.0 40.9L121.5 45.0L119.0 47.6L117.5 49.7L115.7 53.0L111.7 63.0L108.3 70.0L103.9 77.5L99.0 84.3L95.0 89.0L91.0 92.9L87.5 95.7L80.8 100.0L79.7 101.0L79.0 102.0L78.6 103.0L78.5 104.0L78.8 106.0L82.4 116.0L83.1 118.5L83.5 121.0L83.6 123.5L83.4 126.0L82.2 131.5L80.1 138.0L77.2 145.5L75.0 150.2L73.0 153.4L71.0 155.4L69.0 156.5L66.5 157.0L63.5 156.7L61.0 156.1L58.0 155.1L55.5 153.9L53.1 152.5L51.2 151.0L49.7 149.5L48.5 147.9L47.5 146.0L46.4 142.5L45.6 138.0L44.2 117.0L43.6 112.0L42.7 108.5L42.0 107.1L41.0 106.2L39.0 105.4L36.5 105.2L22.0 107.0L15.0 107.5L6.5 107.6L-2.0 107.0L-2.0 43.9L0.5 43.2L3.5 42.6L6.0 42.4L8.5 42.5L10.5 42.9L13.0 43.7L15.0 44.8L17.0 46.1L22.0 50.3L29.0 57.5L37.8 67.5L50.5 82.7L52.5 84.4L53.5 84.7L54.5 84.6L55.5 83.9L56.5 82.6L61.4 73.5L65.8 66.5L70.1 60.5L78.7 49.5L80.3 47.0L81.3 45.0L82.0 42.5L82.1 39.5L81.6 37.0L79.3 30.0L78.6 27.0L78.4 23.5L78.7 20.5L80.0 16.5L82.3 12.0L86.0 5.9ZM140.8 126.5L146.0 126.2L150.5 126.3L155.5 127.0L160.0 128.1L164.0 129.4L167.7 131.0L180.0 137.1L187.0 140.2L187.0 186.0L116.7 186.0L119.4 172.0L120.4 164.0L120.6 156.0L120.0 141.0L120.2 138.0L120.8 135.5L121.6 134.0L122.8 132.5L124.5 131.1L126.5 130.0L129.5 128.8L133.0 127.9L137.0 127.0Z"/><path fill="#44c14e" d="M145.2 -2.0L186.9 -2.0L187.0 20.3L185.2 25.5L184.6 28.5L184.8 30.0L185.1 31.0L185.9 32.5L187.0 33.7L187.0 73.1L183.0 73.3L179.0 73.0L175.5 72.3L172.0 71.0L168.5 69.1L165.8 67.0L163.4 64.5L161.3 61.5L160.3 59.5L159.4 57.0L159.0 55.0L158.8 52.5L159.3 48.0L161.3 40.0L161.4 38.5L161.3 37.0L160.5 35.2L159.2 33.5L152.0 27.3L148.8 24.0L146.3 20.5L144.5 17.0L143.2 12.5L142.9 10.0L142.8 7.5L143.1 5.0L143.6 2.5L144.4 0.0ZM101.1 2.5L104.0 2.8L107.0 4.0L109.5 5.9L111.5 8.1L113.2 11.0L114.3 14.5L114.7 18.0L114.5 21.5L113.6 25.0L112.2 28.0L110.5 30.5L108.0 33.3L105.0 35.7L101.5 37.7L98.0 38.8L95.5 38.9L93.5 38.3L91.0 36.5L88.5 33.9L86.8 31.5L85.5 29.0L84.5 26.0L84.1 23.5L84.3 20.5L85.0 17.5L86.5 14.2L88.5 11.0L91.0 7.9L93.5 5.6L96.0 3.9L98.5 2.9ZM92.1 47.5L93.5 47.4L95.0 47.7L97.5 49.0L99.0 50.2L100.5 51.8L102.8 55.0L104.2 58.0L104.9 61.5L104.9 65.0L104.1 69.0L102.2 73.5L99.8 77.5L97.0 81.0L93.5 84.2L90.0 86.3L86.5 87.4L83.0 87.6L79.5 86.9L77.0 85.8L74.5 84.0L72.6 82.0L71.0 79.5L70.1 77.0L69.7 74.5L69.9 71.5L70.6 68.5L71.8 65.5L73.8 62.0L76.5 58.4L79.5 55.2L83.0 52.1L86.5 49.7L89.5 48.2ZM8.8 59.5L12.5 59.4L16.5 60.0L20.5 61.5L24.0 63.6L27.3 66.5L30.3 70.0L32.7 74.0L34.2 78.0L34.9 82.0L34.7 86.0L33.9 89.5L32.2 93.0L29.9 96.0L27.0 98.4L24.0 100.1L20.0 101.5L17.0 102.1L14.0 102.5L11.0 102.6L8.0 102.4L5.0 101.9L2.5 101.2L0.0 100.3L-2.0 99.2L-2.0 63.9L0.5 62.3L3.0 61.0L6.0 60.0ZM58.4 115.5L60.5 115.2L63.0 115.6L65.5 116.7L67.5 118.2L69.5 120.5L71.0 123.0L72.0 125.5L72.6 128.5L72.8 131.5L72.5 135.0L71.8 138.0L70.5 141.2L69.0 143.7L67.3 145.5L65.5 146.7L63.0 147.6L61.0 147.6L59.0 147.2L57.0 146.4L55.0 144.8L53.5 143.1L52.3 141.0L51.4 138.5L50.8 135.5L50.5 132.0L50.6 128.5L51.0 125.0L51.9 122.0L53.0 119.7L54.5 117.8L56.5 116.2ZM138.6 131.0L143.5 130.6L148.5 130.9L153.0 132.1L157.1 134.0L160.0 135.9L162.6 138.0L170.5 145.8L174.0 149.0L184.0 156.1L187.0 158.5L187.0 186.0L126.0 186.0L125.1 183.5L124.4 181.0L123.9 178.0L123.7 174.5L123.9 149.5L124.2 145.5L124.6 142.5L125.4 140.0L126.4 138.0L127.5 136.4L128.9 135.0L131.0 133.6L133.0 132.6L135.5 131.7Z"/><path fill="#009b30" d="M153.2 -1.5L153.6 -2.0L178.6 -2.0L180.3 0.5L181.6 3.5L182.2 6.5L182.3 9.5L181.7 13.0L180.6 16.0L179.0 18.9L177.0 21.4L175.0 23.1L172.5 24.6L170.0 25.4L167.0 25.6L164.0 25.2L161.0 24.2L158.0 22.6L155.3 20.5L153.1 18.0L151.6 15.5L150.6 13.0L150.0 10.0L150.0 7.0L150.5 4.0L151.6 1.0ZM98.3 12.5L99.5 12.5L101.0 12.9L102.0 13.5L103.0 14.4L103.8 15.5L104.4 17.0L104.6 18.5L104.5 20.0L104.2 21.5L103.5 23.0L101.9 25.0L100.6 26.0L99.5 26.5L98.0 26.9L96.5 26.9L95.0 26.5L94.0 26.0L92.5 24.5L91.6 22.5L91.5 20.0L92.2 17.5L93.8 15.0L94.8 14.0L96.0 13.2ZM175.1 42.0L178.0 41.5L181.0 41.8L184.0 42.7L187.0 44.3L187.0 67.8L184.0 68.6L181.0 68.8L178.0 68.5L175.0 67.6L172.5 66.3L170.1 64.5L168.3 62.5L166.9 60.0L166.1 57.5L165.8 55.0L166.2 52.0L167.0 49.5L168.5 46.9L170.5 44.6L172.5 43.1ZM87.1 56.0L89.5 55.6L92.0 55.9L94.0 56.6L96.1 58.0L97.9 60.0L99.0 62.1L99.7 64.5L99.7 67.5L99.1 70.5L98.1 73.0L96.5 75.6L94.5 77.9L92.5 79.5L90.0 80.8L87.5 81.5L85.0 81.6L83.0 81.3L81.0 80.5L79.4 79.5L77.8 78.0L76.7 76.5L75.8 74.5L75.4 72.5L75.3 70.0L75.7 68.0L76.6 65.5L77.7 63.5L79.1 61.5L81.0 59.5L83.0 58.0L85.0 56.8ZM9.4 66.5L12.5 66.3L15.5 66.8L18.5 67.8L21.0 69.3L23.5 71.4L25.5 74.0L26.8 76.5L27.7 79.5L28.0 82.5L27.7 85.5L26.8 88.5L25.3 91.0L23.5 93.1L21.0 95.0L18.5 96.2L15.5 97.1L13.0 97.4L10.5 97.4L8.0 97.0L5.5 96.3L3.0 95.1L1.0 93.6L-0.6 92.0L-2.0 90.1L-2.0 74.4L0.1 71.5L3.0 69.0L6.0 67.4ZM141.5 135.0L145.0 135.0L148.5 135.7L151.9 137.0L155.0 138.8L159.0 142.2L166.0 149.5L169.1 152.5L172.5 155.3L180.5 161.3L184.5 165.0L187.0 168.3L187.0 186.0L132.1 186.0L130.3 183.0L129.0 180.0L128.0 176.5L127.4 172.5L127.0 166.5L127.0 157.5L127.2 151.5L127.8 147.5L128.5 144.6L129.4 142.5L130.6 140.5L132.0 138.9L133.8 137.5L136.0 136.3L138.5 135.5Z"/><path fill="#005f87" d="M165.1 -1.5L167.0 -1.5L169.0 -1.1L170.5 -0.5L172.1 0.5L173.5 1.8L174.7 3.5L175.3 5.0L175.8 7.0L175.9 9.0L175.6 11.0L174.8 13.0L173.9 14.5L172.5 16.0L171.0 17.1L169.5 17.8L167.5 18.3L165.5 18.3L163.5 17.9L161.5 17.0L160.0 16.0L158.5 14.5L157.5 13.0L156.9 11.5L156.4 9.5L156.4 7.5L156.7 5.5L157.5 3.6L158.5 2.1L160.0 0.6L161.5 -0.4L163.0 -1.1ZM178.6 50.0L181.0 50.1L182.3 50.5L183.5 51.2L184.5 52.0L185.4 53.0L186.3 55.0L186.6 56.0L186.6 57.5L186.0 59.5L185.3 60.5L184.5 61.4L182.5 62.4L181.0 62.8L179.5 62.7L177.0 62.0L175.0 60.5L174.0 59.2L173.5 58.0L173.2 56.5L173.2 55.5L173.5 54.2L174.0 53.0L175.0 51.8L176.0 51.0L177.0 50.4ZM86.1 62.5L87.5 62.1L89.0 62.0L90.5 62.4L91.5 62.9L93.1 64.5L93.7 65.5L94.1 67.0L94.1 68.5L93.8 70.0L93.2 71.5L92.5 72.6L90.5 74.5L89.0 75.2L87.5 75.6L85.5 75.5L83.4 74.5L82.0 73.0L81.5 72.0L81.1 70.5L81.3 68.0L82.5 65.5L84.0 63.8ZM9.5 73.0L11.0 72.7L13.0 72.7L15.0 73.2L16.5 73.8L18.2 75.0L19.5 76.3L20.5 77.8L21.2 79.5L21.6 81.0L21.6 83.0L21.3 85.0L20.7 86.5L19.7 88.0L18.3 89.5L16.8 90.5L15.0 91.3L13.0 91.7L11.0 91.7L9.0 91.3L7.5 90.7L6.0 89.7L4.5 88.3L3.5 86.9L2.7 85.0L2.3 83.0L2.4 81.0L2.9 79.0L3.6 77.5L4.7 76.0L6.0 74.7L7.5 73.8ZM139.6 140.0L142.5 139.5L146.0 139.8L149.5 140.9L152.5 142.7L156.5 146.0L166.0 155.5L176.3 164.0L179.5 167.0L181.1 169.0L182.6 171.5L183.6 174.0L184.1 176.5L184.1 179.0L183.6 181.5L182.4 184.0L181.0 186.0L137.4 186.0L136.5 185.1L134.5 182.5L133.1 180.0L131.9 177.0L131.1 174.0L130.5 170.5L130.1 166.0L130.1 161.0L130.3 156.0L130.6 152.5L131.2 149.5L132.0 147.1L133.0 145.1L134.2 143.5L135.7 142.0L137.5 140.8Z"/><path fill="#0c00f3" d="M143.5 144.5L145.5 144.7L148.0 145.4L150.0 146.4L152.5 148.1L155.0 150.2L163.3 158.0L171.7 165.5L175.5 169.5L177.0 171.8L178.0 174.0L178.4 176.0L178.5 178.0L178.1 180.0L177.2 182.0L176.0 183.5L174.4 185.0L172.8 186.0L143.0 186.0L140.3 184.0L138.0 181.5L136.7 179.5L135.4 177.0L134.5 174.5L133.8 171.5L133.4 168.0L133.2 164.5L133.3 160.5L133.7 156.5L134.3 153.5L135.0 151.1L136.0 149.1L137.0 147.6L138.5 146.2L140.0 145.3L141.5 144.8Z"/><path fill="#2a00da" d="M143.1 150.5L145.0 150.3L147.0 150.6L149.5 151.5L152.0 153.1L155.5 155.8L160.7 160.5L165.5 165.0L168.8 168.5L170.3 170.5L171.5 172.5L172.2 174.5L172.4 176.0L172.3 177.5L171.9 179.0L171.0 180.5L169.5 182.0L166.5 183.8L163.0 185.1L158.5 185.9L154.0 186.0L150.0 185.3L146.5 184.1L143.5 182.3L141.0 179.9L138.8 176.5L137.3 172.5L136.6 168.0L136.6 163.0L137.4 158.0L138.6 154.5L139.5 153.1L140.5 152.0L141.8 151.0Z"/><path fill="#4800b2" d="M145.3 157.0L147.0 156.8L148.5 157.0L150.5 157.8L152.5 158.8L155.0 160.6L157.9 163.0L160.5 165.5L162.7 168.0L165.0 171.5L165.6 173.0L165.9 174.5L165.8 176.0L165.5 177.0L164.6 178.5L163.5 179.5L161.0 181.0L158.5 181.8L155.5 182.2L152.5 182.1L150.0 181.6L147.5 180.6L145.2 179.0L143.5 177.3L142.0 175.0L140.8 172.0L140.3 169.0L140.3 165.5L140.9 162.5L142.0 159.8L143.5 158.0Z"/><path fill="#62008a" d="M147.9 164.5L149.0 164.3L150.0 164.3L152.0 164.9L154.5 166.5L156.5 168.5L157.8 170.5L158.5 172.5L158.5 173.5L158.2 174.5L157.0 176.0L155.0 177.0L153.5 177.2L152.0 177.1L150.5 176.7L149.0 176.0L148.0 175.2L147.0 174.1L146.3 173.0L145.7 171.5L145.4 170.0L145.4 168.5L145.7 167.0L146.2 166.0L147.0 165.1Z"/></g><g clip-path="url(#clip)" fill="none" stroke="#000" stroke-width="0.85" stroke-linejoin="round"><path d="M11.3 53.8L8.7 51.9L7.3 48.4L7.0 43.9L7.3 38.1L8.2 33.6L9.6 29.0L11.3 24.4L13.0 20.4L14.0 19.3L11.9 20.4L9.0 21.9L10.7 19.3L13.0 16.4L15.3 13.0L17.6 10.5L21.0 9.9L25.6 9.5L30.2 9.2L34.2 9.5L38.8 10.1L39.9 10.7L39.3 7.3L41.1 7.0L45.1 7.8L49.6 8.6L54.2 9.3L58.8 10.1L63.4 11.6L65.7 13.5L67.4 17.0L69.2 20.1L72.1 23.7L69.8 27.6L66.4 26.2L63.4 24.2L60.5 22.2L59.0 20.3L59.3 22.7L58.0 26.6L56.6 32.5L55.1 37.4L54.8 39.3L51.4 41.3L50.2 40.4L49.1 35.8L47.9 31.3L46.8 30.1L43.9 31.8L41.1 34.1L39.9 35.3L40.5 32.4L42.2 29.6L43.9 26.7L44.8 22.7L44.1 19.3L41.6 16.4L38.2 14.1L34.8 12.7L32.5 13.0L30.8 15.3L29.1 17.5L26.2 18.9L23.9 19.8L22.2 22.7L20.5 26.7L19.3 31.3L19.0 35.8L19.3 40.4L19.3 45.0L18.2 48.4L16.5 51.9L13.6 53.8ZM47.4 12.1L51.9 13.0L57.1 11.8L55.4 15.8L51.9 14.1ZM14.8 0.6L15.9 2.4L18.8 3.5L22.2 3.2L26.2 2.4L30.2 1.5L33.1 1.5L33.6 3.2L35.9 4.4L37.1 3.8L36.5 1.0L35.9 0.0M41.1 54.9L43.9 53.8L47.4 53.0L50.8 51.3L54.2 50.1L56.5 48.4L59.9 47.5L63.9 47.9L67.4 46.5L71.3 45.8L78.4 45.5L76.7 47.7L73.2 49.7L68.3 52.1L63.4 54.1L58.5 56.6L55.4 58.1L51.9 58.1L47.4 57.3L43.3 56.4ZM72.1 40.2L73.2 37.9L75.7 36.0L79.1 34.7L84.0 33.7L88.9 33.3L93.3 32.5L96.3 30.8L99.9 29.6L99.2 32.5L99.7 36.5L99.2 38.4L95.8 39.4L92.3 40.6L88.9 41.4L86.0 40.6L82.1 40.6L78.1 41.2L74.7 41.8ZM185.0 9.5L181.4 12.4L176.8 14.7L173.4 15.8L169.9 16.4L169.0 18.7L166.5 21.0L163.1 23.8L159.1 26.1L156.2 26.5L155.1 28.4L153.9 30.1L150.5 31.8L147.1 34.1L145.3 36.4L143.6 40.4L142.2 43.9L141.9 47.3L140.8 49.6L142.5 51.9L144.2 54.1L146.5 55.3L148.2 54.7L148.8 52.8L149.1 55.3L147.6 57.0L144.8 57.6L142.5 57.0L140.8 58.1L138.5 56.4L138.0 58.8L136.1 60.3L133.6 61.6L129.7 61.7L125.8 62.2L122.3 63.2L119.4 65.2L117.0 67.6L115.5 69.6L116.0 71.1L117.4 72.0L117.0 75.5L116.0 78.4L114.0 81.8L111.6 84.8L109.6 86.5L108.1 84.8L106.7 82.8L105.2 81.6L105.7 84.3L107.1 87.2L108.8 89.6L109.7 91.9L108.4 94.3L106.5 96.7L105.0 98.7L103.5 102.1L103.0 105.1L102.1 106.1L101.9 104.1L102.5 101.2L103.5 98.7L104.0 97.2L102.1 97.7L100.3 96.7L99.6 94.3L99.1 91.4L99.6 88.4L100.3 85.0L101.1 81.6L99.1 82.0L97.6 84.5L96.7 87.9L96.7 91.4L95.7 93.8L93.7 94.6L95.2 95.8L97.6 96.6L98.1 99.7L98.1 103.6L99.1 107.0L101.1 109.5L102.5 112.4L103.2 115.4L103.5 117.5L101.1 117.3L97.6 118.3L95.2 119.3L98.1 119.1L101.6 118.8L104.0 117.8L104.0 119.8L103.0 122.2L102.1 124.4L100.6 125.2L98.1 126.2L95.7 128.1L94.7 129.6L97.6 129.3L98.1 131.1L95.7 132.5L92.2 133.2L90.3 135.0L87.8 136.9L86.3 138.0L84.1 140.3L81.2 140.8L78.3 142.0L75.5 144.3L73.2 147.1L70.3 150.6L66.9 154.0L62.9 156.3L58.9 159.1L56.0 162.0L54.3 165.4L52.9 169.1L51.1 172.3L51.9 176.8L52.5 181.4L53.1 184.2M107.0 123.2L106.5 126.2L104.5 127.6L102.5 128.6M117.0 68.1L119.9 67.1L123.8 65.9L127.7 64.7L131.7 63.5L133.4 63.7L132.6 65.2L129.7 66.5L125.8 67.6L121.9 68.8L118.4 69.8L116.0 70.1ZM185.0 15.3L181.9 17.0L178.5 20.4L176.6 23.8L176.8 27.3L178.5 30.1L181.9 32.2L185.0 31.3M0.0 173.2L5.6 173.2L8.5 175.7L12.5 178.0L14.5 180.3L15.3 183.1L19.9 182.3L22.8 180.3L27.9 179.4L30.2 182.0L31.9 184.2M135.6 1.0L139.0 0.0"/></g><g font-family="'Liberation Sans',sans-serif" font-size="8.5" fill="#000" text-anchor="middle"><text transform="translate(34.4 40.7) rotate(-70)" y="2.5" font-size="7.0">-5</text><text transform="translate(171.5 78.6) rotate(-20)" y="3.1" font-size="8.5">-5</text><text transform="translate(157.1 101.9) rotate(-30)" y="3.1" font-size="8.5">0</text><text transform="translate(124.6 164.0) rotate(-90)" y="3.1" font-size="8.5">-10</text></g></g><g transform="translate(281.0 190.9)"><path d="M0 0H184.9V184.2" fill="none" stroke="#4a4a4a" stroke-width="1.15"/><path d="M0 -0.6V184.2H185.5" fill="none" stroke="#0a0a0a" stroke-width="1.4"/><g stroke="#000" stroke-width="1"><path d="M-6.5 16.2H0"/><path d="M-6.5 70.2H0"/><path d="M-6.5 124.3H0"/><path d="M-6.5 178.3H0"/><path d="M56.6 184.2V190.5"/><path d="M139.8 184.2V190.5"/></g><g font-family="'Liberation Sans',sans-serif" fill="#000" stroke="#000" stroke-width="0.3"><text x="-27" y="19.8" font-size="9" textLength="15.4" lengthAdjust="spacingAndGlyphs">45N</text><text x="-27" y="73.8" font-size="9" textLength="15.4" lengthAdjust="spacingAndGlyphs">40N</text><text x="-27" y="127.8" font-size="9" textLength="15.4" lengthAdjust="spacingAndGlyphs">35N</text><text x="-27" y="181.9" font-size="9" textLength="15.4" lengthAdjust="spacingAndGlyphs">30N</text><text x="48.3" y="202.6" font-size="9" textLength="16.6" lengthAdjust="spacingAndGlyphs">80W</text><text x="131.5" y="202.6" font-size="9" textLength="16.6" lengthAdjust="spacingAndGlyphs">70W</text><text x="0" y="-9.2" font-size="10.7" textLength="69.7" lengthAdjust="spacingAndGlyphs">DUMMY DATA</text><text x="150.5" y="-9.2" font-size="10.7" textLength="34.8" lengthAdjust="spacingAndGlyphs">PLOT 2</text></g></g>
<g transform="translate(64.8 415.6)"><g clip-path="url(#clip)" fill-rule="evenodd"><rect x="0" y="0" width="185.0" height="184.2" fill="#fff500"/><path fill="#ffd700" d="M65.3 -1.5L65.5 -2.0L110.6 -2.0L110.5 0.5L110.0 3.0L109.0 5.5L107.4 8.5L105.2 11.5L102.8 14.5L91.5 27.0L89.6 30.0L88.5 33.0L88.2 36.0L88.7 39.0L92.7 52.5L94.0 59.0L94.3 64.5L93.3 73.5L93.4 75.0L93.9 76.5L94.5 77.5L95.5 78.5L98.5 80.5L112.5 87.5L117.0 89.2L119.5 89.6L122.5 89.6L132.0 88.1L136.5 87.7L140.0 87.7L143.5 88.1L147.0 88.8L150.5 89.9L161.0 94.5L165.0 95.9L169.0 96.7L180.5 97.9L184.0 98.7L187.0 99.7L187.0 150.0L183.0 151.0L179.0 151.4L175.0 151.3L171.0 150.7L168.0 149.9L165.0 148.9L155.0 144.2L150.5 142.6L147.0 141.8L138.0 140.2L133.0 139.0L127.5 137.2L119.0 133.9L116.0 133.0L113.0 132.6L109.5 132.8L106.0 133.6L96.5 136.4L86.5 138.7L85.0 139.4L84.0 140.1L83.0 141.3L82.5 142.5L82.5 144.5L83.4 146.5L84.8 148.0L89.5 151.5L92.0 153.9L94.3 157.0L96.0 160.5L97.7 166.0L99.1 173.0L99.8 180.0L99.7 186.0L64.2 186.0L62.5 182.0L59.5 172.9L58.0 170.5L56.5 169.2L55.0 168.4L52.5 167.6L43.0 165.7L33.0 162.9L30.0 162.4L28.0 162.6L26.0 163.7L24.5 165.2L20.5 170.5L18.2 173.0L15.5 175.4L12.5 177.4L9.0 179.0L5.5 179.9L1.5 180.2L-2.0 179.9L-2.0 146.0L5.0 147.3L18.5 150.9L20.0 151.0L21.5 150.9L22.5 150.6L23.5 150.0L24.9 148.5L26.0 146.5L30.2 136.5L32.2 132.5L34.5 129.2L37.0 126.6L40.5 124.0L45.0 121.7L49.0 120.2L57.8 117.5L60.5 116.5L62.5 115.3L64.3 113.5L66.0 110.5L67.4 106.5L70.3 94.5L71.1 89.5L70.9 87.5L70.4 86.0L69.5 85.0L68.0 84.0L64.5 82.7L55.0 80.6L49.0 79.0L43.0 77.1L38.0 75.2L32.8 73.0L27.5 70.3L21.6 67.0L15.1 63.0L11.6 60.5L8.5 58.0L6.0 55.5L4.6 53.5L3.7 51.5L3.1 49.0L3.1 47.0L3.7 44.5L4.9 42.0L6.3 40.0L8.5 37.8L11.0 35.9L14.0 34.2L17.0 33.1L20.0 32.5L23.0 32.3L26.0 32.8L29.0 34.2L31.5 36.3L37.0 42.0L40.0 44.7L43.5 47.2L47.0 48.9L51.0 50.0L53.0 50.2L55.0 50.2L58.5 49.4L60.5 48.5L62.0 47.5L63.5 46.2L65.1 44.5L67.9 40.5L70.0 36.0L70.5 34.0L70.8 32.0L70.8 29.5L70.1 26.5L69.0 23.5L65.5 15.5L64.6 13.0L64.1 10.5L63.8 7.5L64.0 4.5L64.5 1.5Z"/><path fill="#ffb400" d="M73.0 -2.0L103.2 -2.0L103.9 0.0L104.3 3.0L104.1 4.5L103.7 6.5L102.1 10.0L99.5 14.0L95.5 18.4L90.5 22.9L85.0 27.0L83.0 28.2L81.5 28.8L80.0 28.8L79.0 28.2L78.0 27.2L76.5 25.4L74.5 22.3L72.9 19.5L71.6 16.5L70.8 14.0L70.2 11.5L70.0 9.5L70.2 5.5L71.3 1.5ZM78.0 35.5L79.5 35.2L81.0 36.0L83.0 38.4L85.0 41.7L87.0 45.9L88.5 50.0L89.4 54.0L89.6 57.5L89.4 60.0L88.9 62.5L87.8 65.0L86.5 67.1L84.5 69.2L82.5 70.6L80.0 71.8L77.5 72.6L69.0 74.2L61.2 76.0L57.0 76.5L54.0 76.5L50.5 76.2L47.0 75.5L43.0 74.5L37.5 72.6L32.0 70.2L26.0 67.0L21.2 64.0L17.2 61.0L14.0 58.0L12.1 55.5L10.8 52.5L10.5 50.0L11.0 47.5L12.1 45.0L13.7 43.0L16.0 41.1L18.5 39.7L21.5 38.8L24.0 38.6L27.0 39.1L30.0 40.3L32.5 42.0L40.5 48.0L43.5 49.8L46.5 51.2L50.0 52.3L53.0 52.9L56.0 53.0L59.0 52.6L62.0 51.5L65.0 49.3L67.7 46.5L74.5 38.4L76.5 36.5ZM87.4 87.5L90.0 87.2L93.0 87.2L96.0 87.7L99.5 88.7L102.0 89.8L105.0 91.3L114.0 97.2L117.0 98.4L119.0 98.5L121.5 98.1L130.0 95.3L134.0 94.4L138.0 94.1L141.5 94.3L145.0 95.0L148.5 96.2L152.0 98.0L159.0 102.0L162.5 103.4L166.5 104.2L175.0 104.4L179.0 104.8L183.0 105.8L187.0 107.5L187.0 142.9L183.5 144.3L179.5 145.1L175.5 145.1L171.5 144.5L169.0 143.7L166.5 142.6L157.5 137.6L153.5 136.0L149.5 135.3L141.5 134.9L138.0 134.5L134.5 133.8L131.5 132.9L126.2 130.5L118.0 125.5L116.0 124.6L114.5 124.3L112.5 124.3L110.5 124.6L99.5 128.4L96.0 129.2L92.5 129.5L88.5 129.4L84.0 128.6L79.5 127.3L75.3 125.5L73.8 124.5L72.6 123.0L72.1 121.5L71.8 119.0L71.7 114.5L72.1 110.0L72.7 106.0L73.7 102.0L74.9 99.0L76.0 96.7L77.5 94.3L79.0 92.4L81.0 90.6L83.0 89.2L85.0 88.2ZM51.7 123.0L56.5 122.6L61.0 122.9L65.6 124.0L67.5 124.8L68.6 125.5L69.8 127.0L70.5 129.5L70.8 133.5L70.7 138.5L69.9 144.0L68.7 148.5L67.2 152.0L65.2 154.5L64.0 155.5L62.4 156.5L58.5 158.0L54.0 158.9L49.0 158.9L45.5 158.4L42.0 157.3L39.0 155.8L36.5 154.0L34.7 152.0L33.3 149.5L32.6 146.5L32.5 143.5L33.2 139.5L34.5 135.6L36.1 132.5L38.5 129.5L41.0 127.3L44.0 125.5L47.5 124.1ZM-2.0 152.0L-0.5 151.9L2.0 152.1L4.0 152.6L6.4 153.5L8.3 154.5L9.6 155.5L10.6 156.5L11.6 158.0L12.1 159.5L12.3 161.0L12.1 162.5L11.6 164.0L9.9 166.5L8.5 167.8L7.0 168.8L5.0 169.6L2.5 170.1L0.0 170.1L-2.0 169.6ZM79.0 159.5L81.0 159.2L83.0 159.2L85.0 159.5L87.0 160.1L89.0 161.1L90.5 162.4L92.0 164.0L92.9 165.5L94.0 167.7L95.0 170.5L95.5 173.0L95.9 176.0L96.0 179.0L95.8 181.5L95.2 184.0L94.4 186.0L73.9 186.0L72.2 183.5L70.6 180.0L69.8 176.0L69.7 172.0L70.3 168.0L71.0 166.0L71.7 164.5L73.5 162.2L76.0 160.5Z"/><path fill="#ff8200" d="M79.8 -1.5L80.4 -2.0L96.0 -2.0L97.7 0.0L98.7 2.0L99.1 4.5L98.9 7.0L98.1 9.5L96.7 12.0L94.5 14.8L92.1 17.0L89.5 18.8L87.0 19.9L85.0 20.3L83.5 20.3L82.0 20.0L80.5 19.3L79.0 18.0L78.0 16.8L76.9 15.0L76.1 13.0L75.6 11.0L75.4 9.0L75.5 7.0L75.8 5.0L76.5 3.1L77.3 1.5L78.5 -0.2ZM22.4 44.5L24.0 44.1L26.0 44.0L27.5 44.2L29.5 44.8L33.0 46.4L41.5 51.7L46.5 54.1L50.5 55.6L54.0 56.7L57.0 57.4L60.0 57.8L62.5 57.4L64.0 56.8L65.0 56.2L67.0 54.3L72.0 48.6L74.5 46.5L76.0 45.6L77.0 45.3L79.0 45.3L80.5 46.0L81.5 46.9L82.5 48.1L83.5 49.9L84.1 51.5L84.5 53.5L84.6 55.5L84.4 57.0L83.6 59.5L82.5 61.3L80.6 63.0L78.5 64.1L75.0 64.9L68.5 65.3L66.0 65.8L64.0 66.7L57.9 70.5L56.0 71.3L54.0 71.9L52.0 72.3L49.5 72.4L44.5 71.8L41.3 71.0L38.0 69.9L34.5 68.5L30.5 66.5L27.0 64.5L24.0 62.5L21.0 60.0L19.1 58.0L17.7 56.0L16.9 54.0L16.6 52.0L16.9 50.0L17.8 48.0L19.0 46.5L20.5 45.4ZM89.8 93.0L93.0 92.8L96.5 93.3L100.0 94.5L103.0 96.2L106.3 99.0L108.9 102.0L111.3 105.5L112.8 109.0L113.0 111.0L112.6 112.5L111.3 114.5L108.9 117.0L105.9 119.5L103.0 121.4L100.0 122.8L97.0 123.7L93.5 124.2L90.5 124.1L87.5 123.5L84.5 122.4L82.0 120.7L80.0 118.7L78.5 116.3L77.5 113.5L77.1 110.0L77.4 106.5L78.4 103.0L79.8 100.0L81.7 97.5L84.0 95.4L87.0 93.8ZM135.0 99.5L138.0 99.2L140.5 99.3L143.0 99.7L145.5 100.5L147.6 101.5L150.0 102.9L157.5 108.5L159.5 109.5L161.0 110.1L162.5 110.4L164.5 110.5L173.0 109.8L177.5 109.9L180.0 110.3L182.0 110.9L184.0 111.8L186.0 113.0L187.0 113.8L187.0 136.8L184.0 138.7L181.0 139.8L177.5 140.2L174.0 139.9L171.0 139.1L168.0 137.7L165.0 135.8L159.0 131.4L157.0 130.2L155.5 129.7L154.0 129.3L152.0 129.1L142.5 129.8L137.5 129.5L135.0 129.0L132.5 128.1L130.2 127.0L128.0 125.6L126.1 124.0L124.1 122.0L122.5 120.0L120.8 117.5L119.1 114.0L118.9 112.5L119.1 111.0L119.8 109.5L121.4 107.5L123.5 105.5L126.0 103.5L128.4 102.0L130.5 100.9L133.0 100.0ZM51.2 127.0L54.0 127.0L56.6 127.5L59.0 128.5L61.0 130.1L62.5 132.0L63.6 134.5L64.2 137.5L64.1 140.5L63.5 143.5L62.5 146.0L61.0 148.2L59.0 150.2L56.5 151.8L54.0 152.7L51.5 153.2L48.5 153.2L46.0 152.7L43.5 151.8L41.5 150.5L39.9 149.0L38.5 147.0L37.7 145.0L37.3 143.0L37.2 140.5L37.7 138.0L38.6 135.5L39.8 133.5L41.5 131.4L43.5 129.8L46.0 128.4L48.5 127.5ZM83.7 167.5L85.0 167.6L86.3 168.0L87.5 168.7L88.5 169.6L90.1 172.0L90.9 175.0L90.9 178.0L90.5 179.5L89.8 181.0L89.0 182.1L88.0 182.9L87.0 183.4L85.5 183.8L84.0 183.8L82.5 183.3L81.0 182.5L80.0 181.7L78.9 180.5L78.1 179.0L77.6 177.5L77.3 176.0L77.3 174.5L77.5 173.0L78.1 171.5L79.0 170.0L80.0 169.0L81.0 168.3L82.5 167.7Z"/><path fill="#ff4600" d="M86.6 2.0L88.0 1.8L89.0 1.9L90.5 2.4L91.3 3.0L92.5 4.5L92.9 5.5L93.0 7.0L92.9 8.0L92.3 9.5L91.5 10.8L90.5 11.8L88.5 13.1L87.0 13.5L86.0 13.5L84.5 13.1L83.0 12.0L82.0 10.0L81.7 8.0L82.1 6.0L83.3 4.0L85.0 2.6ZM25.9 50.5L27.5 50.1L29.0 50.1L30.5 50.4L32.5 51.0L36.5 52.9L44.6 57.5L47.8 59.5L50.1 61.5L50.7 62.5L51.0 63.5L50.7 65.0L49.9 66.0L48.0 67.0L46.0 67.4L43.5 67.3L41.0 66.9L37.9 66.0L34.5 64.6L31.4 63.0L29.0 61.4L26.6 59.5L25.0 57.7L24.0 56.0L23.6 54.0L23.9 52.5L24.5 51.5ZM90.7 98.0L93.0 97.8L95.0 98.0L97.5 98.8L99.5 99.9L101.4 101.5L102.7 103.0L103.8 105.0L104.5 107.0L104.7 109.0L104.5 111.0L103.7 113.0L102.7 114.5L101.3 116.0L99.5 117.4L97.5 118.4L95.5 119.0L93.0 119.3L91.0 119.2L89.0 118.7L87.0 117.7L85.3 116.5L84.0 115.0L83.1 113.5L82.4 111.5L82.1 109.5L82.2 107.0L82.7 105.0L83.7 103.0L85.0 101.2L86.5 99.9L88.5 98.7ZM136.0 104.5L137.5 104.3L139.5 104.2L141.4 104.5L143.0 105.0L146.0 106.5L149.0 109.0L151.3 112.0L152.4 114.0L152.9 115.5L153.2 117.0L153.1 118.0L152.5 119.5L151.7 120.5L149.8 122.0L146.9 123.5L143.6 124.5L140.5 124.8L137.5 124.6L135.0 123.8L132.5 122.5L130.7 121.0L129.0 119.0L127.9 116.5L127.4 114.0L127.8 111.5L129.1 109.0L130.9 107.0L133.2 105.5ZM173.7 115.0L176.0 114.9L178.0 115.1L180.0 115.6L182.0 116.5L183.5 117.5L185.0 119.0L186.0 120.5L186.7 122.0L187.0 123.2L187.0 127.5L186.3 129.5L185.4 131.0L184.0 132.6L182.5 133.7L180.5 134.7L178.0 135.2L175.5 135.1L173.0 134.5L170.5 133.3L168.0 131.5L166.2 129.5L164.4 127.0L163.3 124.5L163.0 123.0L163.1 121.5L163.7 120.0L164.6 119.0L166.5 117.5L168.5 116.5L171.0 115.6ZM49.5 132.0L51.5 131.9L53.0 132.1L54.5 132.7L55.7 133.5L56.6 134.5L57.6 136.0L58.0 137.5L58.2 139.0L58.0 140.9L57.5 142.4L56.6 144.0L55.7 145.0L54.5 146.0L53.0 146.8L51.5 147.3L50.0 147.4L48.5 147.3L47.0 146.9L46.0 146.5L44.6 145.5L43.7 144.5L43.0 143.3L42.6 142.0L42.4 140.5L42.5 139.0L42.9 137.5L43.5 136.2L44.3 135.0L45.5 133.8L46.7 133.0L48.0 132.4Z"/><path fill="#ff0000" d="M91.0 105.0L92.5 104.6L94.0 104.7L95.5 105.4L96.5 106.5L97.1 108.0L97.0 109.5L96.3 111.0L95.0 112.0L93.5 112.5L92.0 112.5L90.5 111.8L89.4 110.5L88.9 109.0L89.0 107.5L89.8 106.0ZM138.1 112.0L139.0 111.9L140.0 112.0L141.0 112.5L141.9 113.5L142.2 114.5L142.1 115.5L141.5 116.4L141.0 116.7L140.0 117.1L138.5 117.0L137.4 116.5L136.6 115.5L136.3 114.5L136.4 113.5L137.2 112.5ZM176.1 123.0L177.5 123.2L178.0 123.5L178.7 124.5L178.8 125.5L178.7 126.0L178.4 126.5L177.5 127.1L176.5 127.2L175.5 126.9L174.9 126.5L174.3 125.5L174.3 124.5L174.5 124.0L175.0 123.4Z"/><path fill="#ffff64" d="M-2.0 -2.0L50.8 -2.0L52.0 5.0L52.6 7.0L53.5 9.0L55.7 12.5L60.5 18.3L63.0 21.7L64.9 25.0L66.1 28.0L66.7 31.5L66.6 34.5L65.7 38.0L63.9 41.5L62.5 43.3L61.0 44.8L59.4 46.0L57.5 46.9L55.5 47.5L53.5 47.8L51.5 47.7L49.0 47.3L46.5 46.4L44.0 45.0L41.5 43.1L39.4 41.0L37.4 38.5L35.9 36.0L31.0 26.1L30.0 24.8L29.0 23.8L27.0 22.6L25.5 22.1L23.5 21.8L18.5 21.7L13.5 22.2L2.5 24.0L-2.0 24.5ZM127.6 -1.5L128.3 -2.0L187.0 -2.0L187.0 78.3L182.0 79.3L177.0 80.0L172.0 80.4L167.5 80.5L161.0 80.2L148.5 78.8L142.5 78.3L136.5 78.1L126.0 78.2L121.5 77.9L116.0 77.0L113.0 76.0L110.5 75.0L106.5 72.7L104.6 71.0L103.3 69.5L101.5 66.6L100.0 63.2L95.2 50.0L93.2 44.0L92.4 40.5L92.0 37.5L92.1 34.5L92.7 32.0L94.3 28.5L97.1 24.5L101.5 19.6L108.0 13.1L113.5 8.1L117.5 4.8L121.0 2.4ZM-2.0 58.0L-2.0 57.7L0.5 58.6L7.5 61.8L26.5 72.1L32.5 75.1L38.0 77.5L50.5 82.5L55.8 85.0L59.0 87.0L61.2 89.0L62.5 91.0L63.5 93.5L63.8 95.5L63.8 97.5L63.6 100.0L63.1 102.5L62.4 105.0L61.5 107.0L60.4 109.0L59.2 110.5L57.1 112.5L54.5 114.2L51.5 115.7L41.0 120.4L38.0 122.1L35.3 124.0L33.1 126.0L31.0 128.5L29.3 131.0L25.0 138.1L23.0 140.7L20.5 142.8L19.0 143.5L17.5 144.0L14.0 144.3L10.0 144.0L4.5 142.9L-2.0 141.1ZM112.3 142.0L116.5 141.7L121.0 142.2L127.0 143.6L134.3 146.0L139.5 148.1L144.5 150.5L155.0 156.9L158.0 158.6L161.0 159.9L164.0 160.9L168.0 161.9L173.5 162.8L187.0 164.0L187.0 186.0L104.3 186.0L102.5 175.0L101.2 163.5L100.7 156.5L101.1 152.0L101.6 150.0L102.3 148.5L103.2 147.0L104.5 145.6L106.0 144.5L108.0 143.3L110.0 142.6Z"/><path fill="#ffffc8" d="M142.8 -2.0L187.0 -2.0L187.0 36.2L183.5 38.2L179.5 39.9L175.5 41.0L171.5 41.5L168.0 41.5L164.5 41.1L153.0 38.3L151.0 38.3L149.5 38.6L148.5 39.2L147.7 40.0L146.3 42.5L144.9 47.5L143.7 56.0L143.1 58.5L141.9 61.0L139.8 63.0L137.2 64.5L133.5 65.9L129.5 66.9L125.0 67.5L121.0 67.6L117.5 67.3L114.0 66.5L111.0 65.4L109.0 64.3L107.0 62.9L105.0 61.0L103.5 59.2L100.5 54.6L97.6 48.5L95.8 43.0L95.2 40.5L94.9 38.0L95.0 36.0L95.2 34.0L95.8 32.0L96.6 30.0L97.7 28.0L99.4 25.5L101.5 23.0L104.0 20.4L109.5 15.6L112.0 13.9L114.5 12.5L118.0 11.1L121.5 10.4L125.0 10.3L133.0 10.9L134.5 10.7L136.1 10.0L137.5 8.7L138.5 7.1ZM47.4 19.0L49.5 18.9L52.0 19.3L54.5 20.2L56.5 21.3L58.5 22.8L60.5 25.0L61.9 27.0L62.9 29.5L63.5 32.0L63.5 34.5L63.1 37.0L62.3 39.0L61.1 41.0L59.5 42.8L57.5 44.2L55.5 45.1L53.0 45.5L50.5 45.4L48.0 44.7L45.5 43.5L43.0 41.6L41.2 39.5L39.6 37.0L38.6 34.5L38.0 31.5L38.0 29.0L38.4 26.5L39.3 24.5L40.6 22.5L42.5 20.8L45.0 19.6ZM-2.0 64.0L-2.0 63.6L-1.5 63.5L3.0 63.9L6.5 64.7L10.5 66.2L16.5 68.9L31.0 76.5L47.5 84.0L52.0 86.7L55.2 89.5L56.5 91.0L57.4 92.5L58.5 95.5L58.8 99.0L58.5 101.0L58.1 103.0L56.5 106.5L54.2 109.5L51.9 111.5L49.0 113.4L37.5 119.2L33.0 122.0L30.6 124.0L28.8 126.0L23.4 133.5L21.0 136.3L19.5 137.6L18.0 138.5L15.0 139.6L11.5 139.9L7.0 139.4L2.1 138.0L-2.0 136.2ZM116.3 149.0L120.0 148.7L123.5 149.0L127.5 150.0L131.0 151.4L134.5 153.3L137.4 155.5L140.0 158.0L142.3 161.0L144.2 164.5L145.3 167.5L146.0 171.0L146.1 174.0L145.7 177.0L144.7 180.0L143.0 183.0L140.7 186.0L109.0 186.0L107.9 183.5L106.9 180.5L106.0 177.0L105.4 173.5L104.8 166.5L104.9 163.5L105.3 160.5L105.9 158.0L106.7 156.0L107.6 154.5L109.0 152.8L110.5 151.4L112.5 150.2L114.5 149.4Z"/><path fill="#beebcb" d="M147.9 -1.5L148.1 -2.0L187.0 -2.0L187.0 30.3L183.0 33.1L178.5 35.1L176.0 35.9L173.5 36.3L168.5 36.4L163.5 35.6L158.5 33.9L152.9 31.0L148.0 27.5L145.8 25.5L144.3 23.5L143.6 21.5L143.2 18.0L143.6 12.5L144.4 7.5L145.8 3.0ZM119.0 15.0L122.5 15.0L126.5 15.7L130.9 17.5L135.0 20.0L138.2 22.5L139.8 24.5L140.7 27.0L141.0 30.5L140.5 37.0L139.1 43.5L137.2 49.0L136.0 51.4L134.7 53.5L133.0 55.5L131.5 56.9L130.0 58.0L128.0 59.2L126.0 60.0L123.5 60.7L119.0 61.1L115.0 60.7L111.5 59.7L108.0 57.7L104.9 55.0L102.0 51.1L99.6 46.5L98.1 42.0L97.7 39.5L97.6 37.5L97.9 34.0L99.1 30.5L101.1 27.0L104.0 23.5L107.5 20.3L111.5 17.6L115.5 15.8ZM47.9 24.0L49.5 23.7L51.5 23.8L53.5 24.2L55.0 24.9L56.5 25.9L58.0 27.2L59.3 29.0L60.0 30.5L60.5 32.2L60.7 34.0L60.5 36.0L60.0 37.6L59.0 39.5L58.0 40.7L56.5 41.9L55.0 42.7L53.5 43.1L51.5 43.2L49.5 42.9L47.5 42.1L45.8 41.0L44.2 39.5L43.1 38.0L42.1 36.0L41.6 34.0L41.5 32.0L41.8 30.0L42.3 28.5L43.3 27.0L44.5 25.8L46.0 24.8ZM-1.4 67.5L1.5 67.1L5.0 67.3L8.5 68.0L12.0 69.1L17.5 71.5L30.0 78.1L42.5 84.0L47.0 86.7L50.5 89.5L51.8 91.0L52.8 92.5L53.6 94.0L54.2 96.0L54.5 99.0L54.3 101.0L53.9 102.5L52.5 105.6L51.5 107.0L50.0 108.7L47.8 110.5L45.0 112.3L33.6 118.0L29.5 120.5L27.7 122.0L26.0 123.8L21.0 130.1L19.0 132.2L16.5 134.0L13.5 135.2L11.5 135.5L9.5 135.5L7.0 135.1L5.0 134.5L3.0 133.6L1.1 132.5L-0.7 131.0L-2.0 129.6L-2.0 67.6ZM118.3 154.5L121.0 154.3L124.0 154.7L127.0 155.6L129.5 156.8L132.0 158.6L134.4 161.0L136.1 163.5L137.3 166.0L138.1 169.0L138.3 172.0L138.0 175.0L137.2 177.5L136.0 180.0L134.1 182.5L132.0 184.4L129.6 186.0L115.5 186.0L113.5 184.3L112.0 182.5L110.8 180.5L109.7 178.0L108.7 174.0L108.2 169.5L108.4 165.5L109.3 162.0L110.9 159.0L112.8 157.0L115.5 155.3Z"/><path fill="#55c85c" d="M151.7 -1.5L152.1 -2.0L187.0 -2.0L187.0 25.8L185.2 27.5L183.5 28.9L180.0 31.0L176.0 32.4L172.0 33.1L167.5 32.9L163.5 32.1L159.5 30.5L155.5 28.0L152.3 25.0L150.1 22.0L148.6 18.5L147.8 15.0L147.7 11.0L148.3 6.5L149.6 2.5ZM117.4 18.5L121.0 18.4L124.5 19.2L127.5 20.5L130.5 22.6L132.7 25.0L134.6 28.0L135.7 31.5L136.1 35.0L135.8 39.5L134.8 43.5L133.3 47.0L131.0 50.4L128.5 52.9L125.5 54.9L122.0 56.2L118.5 56.6L115.0 56.4L111.5 55.3L108.5 53.7L106.0 51.5L103.6 48.5L101.7 45.0L100.6 41.5L100.1 38.0L100.3 34.5L101.3 31.5L102.8 28.5L105.0 25.7L108.0 22.9L111.0 20.8L114.0 19.4ZM48.7 28.0L51.0 27.7L52.5 27.9L53.5 28.2L55.5 29.6L56.3 30.5L57.0 31.8L57.6 34.0L57.5 35.5L57.2 36.5L56.0 38.6L55.0 39.4L54.0 40.0L53.0 40.3L51.5 40.5L49.2 40.0L48.0 39.4L47.0 38.6L45.5 36.5L45.0 35.2L44.8 34.0L44.9 32.5L45.2 31.5L45.6 30.5L46.5 29.4L47.5 28.6ZM2.4 70.0L5.0 69.9L8.0 70.3L11.0 71.0L14.5 72.2L19.0 74.3L29.0 79.6L40.6 85.5L44.5 88.0L46.4 89.5L47.8 91.0L48.9 92.5L49.8 94.0L50.7 97.0L50.7 100.0L49.8 103.0L48.4 105.5L46.0 108.1L43.5 109.9L40.8 111.5L30.5 116.0L26.5 118.1L24.5 119.5L22.8 121.0L18.0 126.2L16.1 128.0L14.0 129.3L11.5 130.1L9.0 130.0L7.0 129.5L4.6 128.0L3.0 126.3L2.0 124.6L1.3 123.0L-0.6 115.0L-2.0 111.3L-2.0 71.1L0.0 70.4ZM118.7 160.0L121.0 159.7L123.0 159.9L125.0 160.5L126.9 161.5L128.5 162.7L130.1 164.5L131.3 166.5L132.0 168.5L132.3 170.5L132.3 172.5L131.9 174.5L131.0 176.7L129.8 178.5L128.3 180.0L126.5 181.2L124.5 182.0L122.5 182.3L120.5 182.2L118.5 181.6L117.0 180.8L115.5 179.6L114.2 178.0L113.2 176.0L112.5 174.0L112.0 171.5L112.0 169.5L112.3 167.0L113.0 165.0L114.0 163.2L115.5 161.6L117.0 160.6Z"/><path fill="#009830" d="M155.1 -1.5L155.5 -2.0L185.5 -2.0L187.0 0.1L187.0 21.3L185.8 23.0L183.0 25.8L180.0 27.9L176.5 29.4L172.5 30.3L168.5 30.3L164.5 29.5L160.9 28.0L157.5 25.8L154.7 23.0L152.7 20.0L151.3 16.5L150.7 13.0L150.7 9.0L151.5 5.5L152.9 2.0ZM117.1 21.5L120.0 21.5L123.0 22.1L125.5 23.3L128.0 25.2L130.0 27.5L131.4 30.0L132.3 33.0L132.6 36.0L132.3 39.5L131.4 42.5L130.0 45.5L128.2 48.0L126.0 50.0L123.5 51.6L120.5 52.6L117.5 53.0L114.5 52.7L112.0 51.9L109.5 50.5L107.2 48.5L105.2 46.0L103.9 43.5L102.9 40.5L102.6 37.5L102.9 34.5L103.6 32.0L105.0 29.5L106.9 27.0L109.0 25.0L111.5 23.4L114.5 22.1ZM3.8 72.5L6.5 72.4L9.5 72.8L12.5 73.6L16.0 74.9L20.0 76.9L37.0 86.0L41.7 89.0L43.5 90.6L45.2 92.5L46.3 94.5L47.0 96.5L47.2 98.5L47.0 100.5L46.2 102.5L45.0 104.5L43.5 106.1L41.5 107.7L39.0 109.2L36.0 110.6L22.8 115.0L13.5 119.2L11.5 119.4L10.5 119.1L9.5 118.4L8.0 116.8L3.8 111.0L-2.0 103.9L-2.0 74.5L0.5 73.3ZM120.2 167.5L121.5 167.3L123.0 167.8L124.0 168.6L124.7 170.0L124.8 171.5L124.5 172.7L123.5 174.0L122.5 174.5L121.0 174.6L120.0 174.2L119.0 173.3L118.3 172.0L118.2 170.5L118.5 169.1L119.3 168.0Z"/><path fill="#005896" d="M158.4 -1.5L158.9 -2.0L182.1 -2.0L182.6 -1.5L184.0 0.1L185.3 2.0L186.3 4.0L187.0 5.9L187.0 15.5L186.3 17.5L185.3 19.5L184.0 21.3L182.5 23.0L180.0 25.0L177.0 26.6L174.0 27.5L170.5 27.9L167.0 27.6L163.5 26.5L160.5 24.8L158.0 22.8L156.0 20.4L154.4 17.5L153.5 14.5L153.2 11.0L153.5 7.5L154.6 4.0L156.3 1.0ZM116.4 24.5L119.0 24.4L121.5 25.0L123.5 25.9L125.5 27.3L127.0 29.0L128.2 31.0L129.0 33.5L129.3 36.0L129.2 38.5L128.5 41.0L127.5 43.3L126.0 45.4L124.0 47.2L122.0 48.4L120.0 49.2L117.5 49.5L115.0 49.4L113.0 48.8L111.0 47.8L109.3 46.5L107.5 44.5L106.4 42.5L105.6 40.5L105.2 38.0L105.3 35.5L105.8 33.5L106.7 31.5L108.0 29.5L109.9 27.5L112.0 26.0L114.0 25.1ZM4.2 75.0L7.0 74.8L9.5 75.0L12.5 75.7L15.5 76.8L20.8 79.5L34.1 87.0L38.0 89.5L39.8 91.0L41.3 92.5L42.3 94.0L43.2 96.0L43.5 98.0L43.4 99.5L42.7 101.5L41.8 103.0L40.4 104.5L38.5 105.9L36.5 107.0L34.0 108.0L28.0 109.5L20.5 110.4L16.0 110.5L12.5 109.9L9.0 108.4L5.0 105.8L1.0 102.4L-2.0 98.8L-2.0 78.1L-0.5 76.9L1.0 76.0Z"/><path fill="#0508f0" d="M162.0 -1.5L162.7 -2.0L178.3 -2.0L180.5 -0.3L182.6 2.0L184.0 4.5L184.9 7.0L185.4 10.0L185.2 13.0L184.4 16.0L183.2 18.5L181.2 21.0L179.0 22.9L176.5 24.3L173.5 25.3L170.5 25.6L167.5 25.3L164.5 24.4L162.0 23.0L160.0 21.4L158.0 19.0L156.6 16.5L155.9 14.0L155.5 11.0L155.8 8.0L156.7 5.0L158.0 2.6L159.7 0.5ZM114.9 28.0L116.5 27.7L118.5 27.7L120.0 28.0L121.5 28.6L123.0 29.7L124.2 31.0L125.1 32.5L125.7 34.5L125.9 36.0L125.8 38.0L125.3 40.0L124.5 41.6L123.4 43.0L122.0 44.3L120.5 45.2L118.5 45.8L116.5 46.0L115.0 45.8L113.5 45.3L112.0 44.5L110.8 43.5L109.6 42.0L108.8 40.5L108.4 39.0L108.2 37.5L108.3 35.5L108.7 34.0L109.5 32.3L110.5 30.9L112.0 29.5L113.5 28.6ZM5.0 77.5L7.5 77.2L10.0 77.4L12.5 78.0L15.5 79.1L21.0 82.0L33.7 90.0L37.0 92.8L38.0 94.0L38.7 95.5L39.1 97.0L39.1 98.5L38.7 100.0L38.1 101.0L37.3 102.0L36.0 103.0L34.3 104.0L32.5 104.7L28.5 105.6L23.0 106.0L17.5 105.8L13.0 105.1L9.0 103.7L5.0 101.5L2.5 99.5L0.7 97.5L-0.8 95.5L-2.0 93.1L-2.0 83.0L-0.7 81.0L0.8 79.5L2.5 78.4Z"/><path fill="#2800d7" d="M167.4 -1.5L170.0 -1.9L172.5 -1.7L175.0 -1.1L177.0 -0.1L179.0 1.4L180.5 3.0L181.7 5.0L182.7 7.5L183.1 10.0L183.0 12.5L182.3 15.0L181.4 17.0L180.0 19.0L178.0 20.8L176.0 22.0L173.5 22.9L171.0 23.3L168.5 23.2L166.0 22.5L164.0 21.5L162.0 20.1L160.5 18.5L159.2 16.5L158.3 14.0L157.9 11.5L158.0 9.0L158.6 6.5L159.5 4.5L161.0 2.4L163.0 0.6L165.0 -0.6ZM116.4 32.0L118.0 32.0L119.0 32.4L119.9 33.0L121.0 34.4L121.5 36.0L121.3 38.0L120.5 39.5L119.0 40.8L117.0 41.4L115.0 41.1L113.5 40.0L112.6 38.5L112.3 37.0L112.5 35.4L113.5 33.6L114.9 32.5ZM7.0 80.0L8.5 79.9L10.5 80.0L14.0 81.0L18.0 83.0L23.2 86.5L29.0 91.0L31.6 93.5L32.6 95.0L32.9 96.0L32.9 97.5L32.5 98.5L31.6 99.5L30.8 100.0L28.0 101.0L24.0 101.6L19.0 101.7L15.0 101.4L11.5 100.7L8.5 99.6L5.5 97.8L3.0 95.5L1.3 93.0L0.3 90.5L0.0 87.5L0.6 85.0L1.4 83.5L2.1 82.5L3.3 81.5L4.5 80.8Z"/><path fill="#4600b2" d="M167.4 1.0L169.0 0.6L171.0 0.5L173.0 0.8L175.0 1.6L176.6 2.5L178.2 4.0L179.3 5.5L180.2 7.5L180.6 9.5L180.7 11.5L180.3 13.5L179.5 15.5L178.5 17.0L177.0 18.6L175.5 19.6L173.5 20.4L171.5 20.9L169.5 20.9L167.6 20.5L166.0 19.9L164.5 19.0L162.8 17.5L161.7 16.0L160.8 14.0L160.3 12.0L160.3 10.0L160.6 8.0L161.4 6.0L162.5 4.4L164.0 2.8L165.5 1.8ZM7.7 83.5L10.0 83.3L12.5 83.7L15.0 84.8L17.5 86.5L20.2 89.0L22.1 91.5L22.5 92.5L22.6 93.5L22.4 94.5L22.0 95.0L20.6 96.0L19.2 96.5L17.0 96.9L14.5 96.9L12.5 96.7L10.5 96.2L8.5 95.3L7.0 94.3L5.7 93.0L4.7 91.5L4.0 89.5L3.9 88.0L4.3 86.5L5.0 85.3L6.0 84.3Z"/><path fill="#62008c" d="M168.6 3.5L170.0 3.3L171.5 3.3L174.0 4.1L175.3 5.0L176.3 6.0L177.0 7.1L177.6 8.5L177.9 10.0L177.9 11.5L177.6 13.0L177.0 14.3L176.2 15.5L175.0 16.6L174.0 17.3L172.5 17.9L171.0 18.1L169.5 18.1L168.0 17.7L166.5 17.0L165.2 16.0L164.4 15.0L163.8 14.0L163.2 12.5L163.0 11.0L163.1 9.5L164.0 7.0L165.0 5.7L166.0 4.8L167.2 4.0Z"/></g><g clip-path="url(#clip)" fill="none" stroke="#000" stroke-width="0.85" stroke-linejoin="round"><path d="M11.3 53.8L8.7 51.9L7.3 48.4L7.0 43.9L7.3 38.1L8.2 33.6L9.6 29.0L11.3 24.4L13.0 20.4L14.0 19.3L11.9 20.4L9.0 21.9L10.7 19.3L13.0 16.4L15.3 13.0L17.6 10.5L21.0 9.9L25.6 9.5L30.2 9.2L34.2 9.5L38.8 10.1L39.9 10.7L39.3 7.3L41.1 7.0L45.1 7.8L49.6 8.6L54.2 9.3L58.8 10.1L63.4 11.6L65.7 13.5L67.4 17.0L69.2 20.1L72.1 23.7L69.8 27.6L66.4 26.2L63.4 24.2L60.5 22.2L59.0 20.3L59.3 22.7L58.0 26.6L56.6 32.5L55.1 37.4L54.8 39.3L51.4 41.3L50.2 40.4L49.1 35.8L47.9 31.3L46.8 30.1L43.9 31.8L41.1 34.1L39.9 35.3L40.5 32.4L42.2 29.6L43.9 26.7L44.8 22.7L44.1 19.3L41.6 16.4L38.2 14.1L34.8 12.7L32.5 13.0L30.8 15.3L29.1 17.5L26.2 18.9L23.9 19.8L22.2 22.7L20.5 26.7L19.3 31.3L19.0 35.8L19.3 40.4L19.3 45.0L18.2 48.4L16.5 51.9L13.6 53.8ZM47.4 12.1L51.9 13.0L57.1 11.8L55.4 15.8L51.9 14.1ZM14.8 0.6L15.9 2.4L18.8 3.5L22.2 3.2L26.2 2.4L30.2 1.5L33.1 1.5L33.6 3.2L35.9 4.4L37.1 3.8L36.5 1.0L35.9 0.0M41.1 54.9L43.9 53.8L47.4 53.0L50.8 51.3L54.2 50.1L56.5 48.4L59.9 47.5L63.9 47.9L67.4 46.5L71.3 45.8L78.4 45.5L76.7 47.7L73.2 49.7L68.3 52.1L63.4 54.1L58.5 56.6L55.4 58.1L51.9 58.1L47.4 57.3L43.3 56.4ZM72.1 40.2L73.2 37.9L75.7 36.0L79.1 34.7L84.0 33.7L88.9 33.3L93.3 32.5L96.3 30.8L99.9 29.6L99.2 32.5L99.7 36.5L99.2 38.4L95.8 39.4L92.3 40.6L88.9 41.4L86.0 40.6L82.1 40.6L78.1 41.2L74.7 41.8ZM185.0 9.5L181.4 12.4L176.8 14.7L173.4 15.8L169.9 16.4L169.0 18.7L166.5 21.0L163.1 23.8L159.1 26.1L156.2 26.5L155.1 28.4L153.9 30.1L150.5 31.8L147.1 34.1L145.3 36.4L143.6 40.4L142.2 43.9L141.9 47.3L140.8 49.6L142.5 51.9L144.2 54.1L146.5 55.3L148.2 54.7L148.8 52.8L149.1 55.3L147.6 57.0L144.8 57.6L142.5 57.0L140.8 58.1L138.5 56.4L138.0 58.8L136.1 60.3L133.6 61.6L129.7 61.7L125.8 62.2L122.3 63.2L119.4 65.2L117.0 67.6L115.5 69.6L116.0 71.1L117.4 72.0L117.0 75.5L116.0 78.4L114.0 81.8L111.6 84.8L109.6 86.5L108.1 84.8L106.7 82.8L105.2 81.6L105.7 84.3L107.1 87.2L108.8 89.6L109.7 91.9L108.4 94.3L106.5 96.7L105.0 98.7L103.5 102.1L103.0 105.1L102.1 106.1L101.9 104.1L102.5 101.2L103.5 98.7L104.0 97.2L102.1 97.7L100.3 96.7L99.6 94.3L99.1 91.4L99.6 88.4L100.3 85.0L101.1 81.6L99.1 82.0L97.6 84.5L96.7 87.9L96.7 91.4L95.7 93.8L93.7 94.6L95.2 95.8L97.6 96.6L98.1 99.7L98.1 103.6L99.1 107.0L101.1 109.5L102.5 112.4L103.2 115.4L103.5 117.5L101.1 117.3L97.6 118.3L95.2 119.3L98.1 119.1L101.6 118.8L104.0 117.8L104.0 119.8L103.0 122.2L102.1 124.4L100.6 125.2L98.1 126.2L95.7 128.1L94.7 129.6L97.6 129.3L98.1 131.1L95.7 132.5L92.2 133.2L90.3 135.0L87.8 136.9L86.3 138.0L84.1 140.3L81.2 140.8L78.3 142.0L75.5 144.3L73.2 147.1L70.3 150.6L66.9 154.0L62.9 156.3L58.9 159.1L56.0 162.0L54.3 165.4L52.9 169.1L51.1 172.3L51.9 176.8L52.5 181.4L53.1 184.2M107.0 123.2L106.5 126.2L104.5 127.6L102.5 128.6M117.0 68.1L119.9 67.1L123.8 65.9L127.7 64.7L131.7 63.5L133.4 63.7L132.6 65.2L129.7 66.5L125.8 67.6L121.9 68.8L118.4 69.8L116.0 70.1ZM185.0 15.3L181.9 17.0L178.5 20.4L176.6 23.8L176.8 27.3L178.5 30.1L181.9 32.2L185.0 31.3M0.0 173.2L5.6 173.2L8.5 175.7L12.5 178.0L14.5 180.3L15.3 183.1L19.9 182.3L22.8 180.3L27.9 179.4L30.2 182.0L31.9 184.2M135.6 1.0L139.0 0.0"/></g><g font-family="'Liberation Sans',sans-serif" font-size="8.5" fill="#000" text-anchor="middle"><text transform="translate(94.9 91.2) rotate(-80)" y="2.2" font-size="6.0">5</text><text transform="translate(25.5 71.9) rotate(25)" y="3.1" font-size="8.5">0</text><text transform="translate(136.4 79.2) rotate(0)" y="3.1" font-size="8.5">0</text><text transform="translate(177.5 145.8) rotate(0)" y="3.1" font-size="8.5">5</text><text transform="translate(79.7 36.7) rotate(-60)" y="2.2" font-size="6.0">0</text><text transform="translate(144.7 44.3) rotate(0)" y="2.2" font-size="6.0">0</text><text transform="translate(101.3 166.5) rotate(-80)" y="2.2" font-size="6.0">0</text><text transform="translate(59.4 12.6) rotate(-60)" y="2.2" font-size="6.0">0</text></g></g><g transform="translate(65.0 415.6)"><path d="M0 0H184.9V184.2" fill="none" stroke="#4a4a4a" stroke-width="1.15"/><path d="M0 -0.6V184.2H185.5" fill="none" stroke="#0a0a0a" stroke-width="1.4"/><g stroke="#000" stroke-width="1"><path d="M-6.5 16.2H0"/><path d="M-6.5 70.2H0"/><path d="M-6.5 124.3H0"/><path d="M-6.5 178.3H0"/><path d="M56.6 184.2V190.5"/><path d="M139.8 184.2V190.5"/></g><g font-family="'Liberation Sans',sans-serif" fill="#000" stroke="#000" stroke-width="0.3"><text x="-27" y="19.8" font-size="9" textLength="15.4" lengthAdjust="spacingAndGlyphs">45N</text><text x="-27" y="73.8" font-size="9" textLength="15.4" lengthAdjust="spacingAndGlyphs">40N</text><text x="-27" y="127.8" font-size="9" textLength="15.4" lengthAdjust="spacingAndGlyphs">35N</text><text x="-27" y="181.9" font-size="9" textLength="15.4" lengthAdjust="spacingAndGlyphs">30N</text><text x="48.3" y="202.6" font-size="9" textLength="16.6" lengthAdjust="spacingAndGlyphs">80W</text><text x="131.5" y="202.6" font-size="9" textLength="16.6" lengthAdjust="spacingAndGlyphs">70W</text><text x="0" y="-9.2" font-size="10.7" textLength="69.7" lengthAdjust="spacingAndGlyphs">DUMMY DATA</text><text x="150.5" y="-9.2" font-size="10.7" textLength="34.8" lengthAdjust="spacingAndGlyphs">PLOT 3</text></g></g>
<g transform="translate(280.4 415.6)"><g clip-path="url(#clip)" fill-rule="evenodd"><rect x="0" y="0" width="185.0" height="184.2" fill="#ffffff"/><path fill="#ffffaa" d="M49.4 -1.5L49.6 -2.0L84.6 -2.0L83.7 1.0L82.2 4.5L75.6 17.5L74.6 20.0L74.2 22.0L74.0 24.5L74.4 27.5L76.9 36.0L77.6 39.5L77.5 43.0L76.5 46.5L74.7 50.0L72.0 54.0L68.5 58.3L65.0 62.1L62.5 64.3L60.0 65.9L57.5 67.0L55.0 67.5L53.5 67.5L51.5 67.3L48.0 66.1L44.5 63.9L41.0 60.8L37.8 57.0L35.4 53.0L33.7 48.5L33.1 44.5L33.1 41.5L33.4 39.0L34.2 36.0L35.4 33.0L36.8 30.5L38.4 28.0L45.2 19.5L47.1 16.0L48.0 12.5L48.6 3.0ZM127.9 62.5L132.0 62.3L136.5 62.5L156.0 65.3L175.5 66.6L181.5 67.6L187.0 69.1L187.0 123.6L184.5 124.2L181.5 124.7L178.5 125.0L175.5 124.9L170.0 124.4L157.5 122.2L150.5 121.8L144.5 122.1L129.5 123.6L125.0 123.7L120.5 123.3L117.0 122.7L114.0 121.9L111.0 120.9L107.7 119.5L104.8 118.0L101.5 116.0L98.7 114.0L96.5 112.0L95.0 110.0L94.2 108.0L93.8 105.0L94.0 102.0L94.7 98.5L95.8 95.5L97.5 92.0L99.9 88.0L104.2 81.5L109.0 74.9L112.0 71.1L115.0 68.0L118.0 65.7L121.0 64.2L124.0 63.2ZM72.0 107.0L75.5 106.7L79.5 107.2L83.5 108.5L86.5 110.2L88.3 112.0L89.4 114.0L90.0 117.0L89.9 120.5L89.0 125.0L87.4 129.5L85.0 133.9L82.2 137.5L79.0 140.5L75.5 142.6L72.0 143.7L70.0 143.9L68.5 143.8L66.5 143.4L64.5 142.6L63.0 141.6L61.5 140.0L60.0 137.4L56.2 129.5L55.6 127.5L55.6 125.5L56.4 122.5L58.0 119.0L59.7 116.0L62.0 113.0L64.1 111.0L66.5 109.2L69.0 107.9ZM9.4 112.0L16.0 111.7L22.0 111.9L27.0 112.5L31.0 113.4L34.8 115.0L38.1 117.0L41.1 119.5L44.3 123.0L46.7 126.5L47.5 129.0L47.4 131.5L46.2 138.0L45.9 141.5L46.0 145.0L46.7 148.0L48.0 150.4L50.0 152.3L52.0 153.4L56.5 155.3L58.0 156.3L59.5 157.5L62.5 160.7L65.0 164.5L66.4 167.0L67.6 170.0L68.4 172.5L69.0 175.5L69.4 178.5L69.4 181.0L69.1 183.5L68.5 186.0L22.3 186.0L21.5 183.0L20.9 180.0L20.0 169.1L19.3 167.0L18.3 165.5L16.5 164.0L14.4 163.0L3.5 159.8L-2.0 157.7L-2.0 113.7L3.0 112.7Z"/><path fill="#ffff5a" d="M59.8 -1.5L60.0 -2.0L76.9 -2.0L77.0 0.0L76.6 2.5L75.7 5.0L74.4 7.5L72.5 10.1L70.5 12.3L68.0 14.3L66.0 15.3L65.0 15.6L64.0 15.6L62.5 14.9L61.0 13.2L59.7 10.5L58.8 7.5L58.5 4.0L58.9 1.0ZM58.7 23.5L61.0 23.2L62.0 23.4L63.0 24.0L65.0 25.9L67.5 29.4L69.8 33.5L71.3 37.5L71.9 41.0L71.8 44.0L71.0 47.0L69.3 50.5L67.2 53.5L64.5 56.3L62.0 58.2L59.0 59.6L56.5 60.2L53.5 60.1L50.5 59.3L48.0 57.9L45.6 56.0L43.5 53.5L42.1 51.0L41.0 48.0L40.6 45.0L40.7 42.0L41.3 39.0L42.4 36.5L44.0 33.8L46.0 31.4L48.5 29.1L52.0 26.6L55.5 24.7ZM128.1 68.5L133.0 68.5L138.0 69.1L143.0 70.1L152.5 72.6L158.0 73.6L162.5 74.1L172.0 74.8L177.0 75.4L182.5 76.8L187.0 78.6L187.0 114.1L184.5 115.3L181.5 116.3L178.5 117.0L175.5 117.4L170.5 117.6L159.0 117.2L153.5 117.3L148.0 117.8L135.0 119.8L128.5 120.2L123.0 119.8L118.0 118.7L115.5 117.8L113.0 116.6L109.0 114.0L106.3 111.5L104.3 109.0L102.6 106.0L101.5 103.0L101.0 100.0L101.0 97.0L101.5 94.0L102.7 90.5L104.9 86.0L107.8 81.5L111.0 77.5L114.5 74.0L117.5 71.8L120.5 70.3L124.0 69.1ZM9.4 117.0L13.5 116.7L18.0 116.9L22.0 117.5L25.5 118.5L28.6 120.0L31.5 122.0L34.0 124.5L35.7 127.0L37.0 130.0L37.7 133.0L37.8 136.5L37.3 140.0L36.1 143.5L34.3 147.0L32.0 149.8L29.5 151.7L26.5 153.0L22.5 153.9L18.0 154.2L13.0 154.0L9.0 153.4L5.0 152.3L1.5 150.8L-2.0 148.7L-2.0 120.9L0.5 119.5L3.0 118.5L6.0 117.6ZM72.7 117.0L74.5 116.8L76.0 117.1L77.5 117.7L78.6 118.5L79.5 119.5L80.4 121.0L80.9 122.5L81.2 124.5L81.0 126.5L80.5 128.2L79.6 130.0L78.6 131.5L77.5 132.6L76.0 133.6L74.5 134.2L73.0 134.4L71.5 134.2L70.5 133.9L69.0 133.0L68.0 132.1L67.2 131.0L66.5 129.5L66.1 128.0L66.0 126.5L66.4 123.5L66.9 122.0L67.8 120.5L69.0 119.1L70.0 118.2L71.5 117.4ZM40.6 160.5L43.0 160.4L45.5 160.6L48.0 161.2L50.5 162.1L53.0 163.3L55.0 164.7L57.0 166.5L58.3 168.0L59.7 170.0L60.9 172.5L61.5 174.5L61.9 177.0L62.0 179.5L61.8 181.5L61.2 184.0L60.3 186.0L30.8 186.0L29.9 184.0L29.3 182.0L28.8 178.0L29.2 173.5L30.4 169.5L32.1 166.0L33.2 164.5L34.5 163.2L36.0 162.0L37.5 161.3Z"/><path fill="#fff200" d="M55.1 34.0L57.0 33.7L58.5 33.7L60.5 34.3L62.0 35.2L63.5 36.5L64.6 38.0L65.5 40.0L65.9 42.0L65.9 44.0L65.5 46.0L64.7 48.0L63.7 49.5L62.4 51.0L60.5 52.4L59.0 53.1L57.0 53.6L55.0 53.5L53.5 53.2L52.0 52.5L50.5 51.5L49.2 50.0L48.3 48.5L47.7 47.0L47.3 45.0L47.4 43.0L47.7 41.5L48.5 39.5L49.4 38.0L50.5 36.7L52.0 35.5L53.5 34.6ZM128.5 72.5L133.0 72.6L137.5 73.3L142.5 74.7L152.5 78.3L156.5 79.5L162.0 80.5L171.5 81.4L175.2 82.0L179.5 83.2L183.0 84.7L185.0 86.1L187.0 87.8L187.0 104.9L185.0 106.7L182.5 108.4L179.5 109.7L176.5 110.6L171.0 111.4L160.5 111.8L155.5 112.3L150.5 113.3L140.0 115.8L134.5 116.7L129.0 117.1L124.0 116.7L119.5 115.5L115.5 113.7L112.5 111.7L110.0 109.3L107.9 106.5L106.4 103.5L105.4 100.5L105.1 97.5L105.3 94.5L106.1 91.0L107.8 87.0L109.9 83.5L112.5 80.2L115.4 77.5L118.5 75.4L121.5 73.9L125.0 72.9ZM10.5 122.0L13.0 121.7L16.0 121.8L19.0 122.3L21.5 123.1L24.0 124.3L26.0 125.7L27.8 127.5L29.1 129.5L30.0 131.5L30.5 134.0L30.4 136.5L29.9 138.5L29.0 140.6L27.5 142.8L25.7 144.5L23.5 145.9L20.5 147.2L17.0 147.9L13.0 148.0L9.5 147.4L6.0 146.2L3.0 144.5L0.7 142.5L-1.1 140.0L-2.0 137.9L-2.0 131.2L-0.7 128.5L1.5 126.0L4.0 124.2L7.0 122.9ZM43.5 168.5L45.0 168.4L47.0 168.6L48.5 169.0L50.0 169.7L51.3 170.5L52.5 171.6L53.6 173.0L54.4 174.5L54.9 176.0L55.2 177.5L55.1 180.5L54.7 182.0L53.9 183.5L53.0 184.8L51.8 186.0L39.3 186.0L37.9 184.5L36.7 182.5L36.0 180.5L35.7 178.0L36.1 175.5L36.8 173.5L38.0 171.7L39.5 170.2L41.5 169.1Z"/><path fill="#ffcf00" d="M126.4 76.0L129.0 75.8L132.0 75.9L135.0 76.3L138.0 77.0L144.0 79.3L154.5 84.7L158.5 86.4L163.0 87.7L171.5 89.1L175.0 90.2L176.5 91.0L177.9 92.0L179.5 94.0L180.1 96.0L180.0 97.5L179.7 98.5L178.8 100.0L177.5 101.2L176.0 102.2L174.0 103.1L170.5 104.0L162.5 105.1L158.0 106.1L154.0 107.5L143.6 111.5L137.5 113.3L132.5 114.1L128.0 114.2L124.0 113.7L120.0 112.4L117.0 110.9L114.5 109.0L112.5 107.0L110.7 104.5L109.5 102.0L108.7 99.0L108.5 96.0L108.8 93.0L109.6 90.0L111.0 87.0L112.9 84.0L115.2 81.5L117.6 79.5L120.5 77.8L123.5 76.6ZM13.2 128.0L15.0 128.0L16.5 128.3L19.0 129.3L21.0 131.1L21.6 132.0L22.2 133.5L22.3 135.0L22.1 136.0L21.2 138.0L20.3 139.0L19.0 140.0L16.5 141.0L15.0 141.3L13.0 141.3L11.5 141.0L10.0 140.5L8.5 139.6L7.2 138.5L6.4 137.5L5.8 136.0L5.6 134.5L5.8 133.0L6.5 131.6L7.4 130.5L8.6 129.5L10.0 128.8L11.5 128.3Z"/><path fill="#ffaa00" d="M126.2 79.0L129.0 78.7L131.5 78.8L134.0 79.2L137.0 80.0L139.6 81.0L142.5 82.4L145.0 84.0L147.7 86.0L150.0 88.0L152.4 90.5L153.8 92.5L154.5 94.0L154.9 95.5L154.9 97.0L154.4 98.5L153.2 100.5L151.8 102.0L149.6 104.0L145.1 107.0L139.8 109.5L137.0 110.4L134.5 111.0L132.0 111.4L129.5 111.5L125.0 111.0L121.0 109.7L119.0 108.7L117.4 107.5L115.5 105.8L114.1 104.0L112.9 102.0L112.1 100.0L111.7 98.0L111.5 95.5L111.7 93.0L112.3 91.0L113.3 88.5L114.5 86.5L116.0 84.6L117.6 83.0L119.5 81.6L121.5 80.5L124.0 79.5Z"/><path fill="#ff7d00" d="M125.7 82.0L128.5 81.6L131.0 81.7L133.5 82.1L136.0 82.8L138.6 84.0L141.0 85.5L143.4 87.5L145.2 89.5L146.5 91.5L147.3 93.5L147.6 95.5L147.5 97.5L146.7 99.5L145.8 101.0L144.1 103.0L142.3 104.5L139.0 106.5L135.5 107.9L132.0 108.6L128.5 108.7L125.0 108.2L122.0 107.1L119.0 105.1L117.0 102.9L115.3 100.0L114.6 97.0L114.5 95.5L114.6 93.5L115.5 90.5L117.2 87.5L119.5 85.1L122.5 83.1Z"/><path fill="#ff4400" d="M126.0 85.0L128.0 84.6L130.0 84.6L132.5 85.0L134.5 85.6L136.5 86.5L138.5 87.9L140.1 89.5L141.2 91.0L142.0 92.5L142.5 94.0L142.6 96.0L142.3 97.5L141.5 99.5L140.5 100.9L139.0 102.4L137.5 103.5L135.0 104.8L132.5 105.5L129.5 105.8L127.0 105.6L124.5 104.9L122.5 103.9L120.5 102.3L119.1 100.5L118.1 98.5L117.6 96.0L117.8 93.5L118.5 91.2L119.8 89.0L121.5 87.3L123.5 86.0Z"/><path fill="#ff0000" d="M126.6 88.5L128.0 88.2L129.5 88.1L132.0 88.5L133.5 89.2L134.8 90.0L136.7 92.0L137.2 93.0L137.7 94.5L137.7 96.0L137.5 97.0L136.5 99.0L135.5 100.1L134.2 101.0L132.5 101.8L131.0 102.2L129.0 102.3L127.5 102.2L126.0 101.7L124.5 100.9L123.4 100.0L122.2 98.5L121.6 97.0L121.4 95.5L121.5 94.0L121.9 92.5L122.9 91.0L123.8 90.0L125.0 89.2Z"/><path fill="#a5e2a8" d="M92.4 -1.5L92.8 -2.0L125.1 -2.0L126.0 -1.9L126.8 -2.0L187.0 -2.0L187.0 40.3L184.0 41.7L181.0 42.8L177.5 43.8L173.5 44.5L170.0 44.9L166.0 44.9L162.0 44.7L158.5 44.1L152.5 42.6L147.0 40.2L144.5 38.8L141.5 36.8L134.5 30.8L133.0 29.8L131.0 29.0L129.5 29.2L128.5 29.8L127.0 31.3L122.0 37.5L116.7 43.5L115.0 45.9L114.2 47.5L113.6 49.5L112.6 56.0L111.7 60.0L110.6 63.5L108.9 67.5L106.4 72.5L103.3 77.5L100.0 82.0L96.5 86.1L93.5 88.9L90.5 91.2L87.5 92.7L84.5 93.6L81.0 93.9L77.5 93.5L73.5 92.6L70.0 91.3L67.5 90.0L65.5 88.6L64.0 87.0L63.1 85.5L62.5 84.0L62.1 82.0L62.2 80.0L62.6 77.5L63.6 74.5L64.9 71.5L66.7 68.0L68.9 64.5L73.9 57.5L82.2 47.5L83.6 45.5L84.3 44.0L84.9 42.0L84.7 39.5L84.0 37.0L81.4 30.5L80.5 27.5L80.0 24.0L80.3 20.5L81.6 16.0L84.3 10.5L88.0 4.4ZM3.8 45.0L8.0 44.7L12.0 45.3L14.0 45.9L16.0 46.9L20.0 49.5L24.5 53.7L30.5 60.2L37.6 69.0L42.7 76.0L45.0 80.0L46.5 83.5L47.1 86.5L47.1 89.5L46.3 92.5L44.8 95.5L42.8 98.0L39.7 100.5L36.5 102.2L32.5 103.7L27.4 105.0L22.0 105.9L16.0 106.6L10.0 106.9L4.0 106.8L-2.0 106.4L-2.0 46.5L1.0 45.6ZM138.0 126.5L144.5 126.0L150.0 126.2L155.5 127.1L161.0 128.8L166.9 131.5L172.9 135.0L178.7 139.0L187.0 145.4L187.0 186.0L85.8 186.0L84.0 183.2L82.0 179.3L80.0 174.7L78.0 169.5L76.8 165.5L76.1 162.5L75.8 160.0L75.9 157.5L76.8 154.5L78.8 151.0L94.0 131.8L96.0 129.8L98.0 128.3L100.0 127.3L102.5 126.7L106.5 126.6L117.0 127.7L122.5 127.9L128.5 127.6ZM52.0 139.0L53.0 138.7L53.5 138.9L54.1 139.5L54.6 140.5L54.8 142.0L54.7 143.0L54.3 144.0L53.5 144.7L52.5 144.6L52.0 144.3L51.3 143.0L51.1 141.0L51.5 139.7Z"/><path fill="#44c14e" d="M146.9 -2.0L186.5 -2.0L187.0 -1.0L187.0 18.6L186.5 19.5L184.2 23.0L181.0 26.2L179.0 27.7L177.0 28.8L173.0 30.4L169.0 31.2L164.5 31.2L160.0 30.3L156.0 28.6L152.5 26.3L149.2 23.0L147.7 21.0L146.6 19.0L145.0 15.0L144.2 11.0L144.3 6.5L145.2 2.0ZM99.5 4.0L102.0 4.0L104.5 4.7L107.0 6.1L109.0 8.0L110.7 10.5L111.9 13.5L112.5 16.5L112.5 19.5L111.9 22.5L110.7 25.5L109.2 28.0L107.0 30.4L104.5 32.4L102.0 33.6L99.0 34.5L96.5 34.6L94.0 34.0L92.0 33.1L90.0 31.6L88.5 29.9L87.0 27.5L86.2 25.5L85.7 23.0L85.7 20.5L86.1 18.0L87.2 15.0L88.5 12.5L90.5 9.6L92.5 7.5L95.0 5.6L97.0 4.6ZM90.3 50.5L92.0 50.4L93.5 50.5L96.5 51.4L99.0 53.0L101.5 55.6L103.2 58.5L104.1 61.5L104.3 65.0L103.8 68.5L102.3 72.5L100.4 76.0L97.5 79.8L94.5 82.6L91.5 84.6L88.0 85.9L85.0 86.3L81.5 85.9L79.0 85.0L76.5 83.6L74.5 81.8L72.8 79.5L71.8 77.5L71.2 75.0L71.1 72.5L71.6 69.5L72.6 66.5L74.4 63.0L76.5 60.0L79.0 57.1L81.5 54.8L84.5 52.7L87.5 51.2ZM7.0 60.0L11.0 59.7L15.0 60.1L18.5 61.3L22.0 63.1L25.5 65.9L28.3 69.0L30.6 72.5L32.4 76.5L33.2 80.0L33.4 84.0L32.7 88.0L31.3 91.5L29.2 94.5L26.6 97.0L23.5 98.9L20.0 100.4L17.5 101.0L14.5 101.5L11.5 101.8L8.5 101.7L5.5 101.3L3.0 100.8L0.5 99.9L-2.0 98.7L-2.0 63.8L0.0 62.6L2.5 61.3L4.5 60.6ZM139.3 130.5L143.5 130.3L147.5 130.5L151.5 131.3L155.0 132.5L158.5 134.2L161.5 136.2L164.5 138.8L167.4 142.0L175.5 152.0L183.7 161.0L187.0 165.1L187.0 186.0L121.9 186.0L118.5 183.6L115.5 182.2L112.5 181.2L104.0 179.1L99.0 177.1L96.5 175.7L94.5 174.3L92.5 172.6L91.0 171.0L89.5 169.0L88.3 167.0L86.7 163.0L86.1 159.0L86.4 155.0L87.6 151.0L90.0 146.5L93.3 142.0L97.0 138.4L99.0 136.9L101.5 135.5L104.0 134.6L106.5 134.0L110.5 133.5L123.5 132.8Z"/><path fill="#009b30" d="M155.1 -1.5L155.6 -2.0L177.8 -2.0L179.8 0.5L181.1 3.0L181.8 5.5L182.2 8.5L181.9 11.5L181.3 14.0L180.1 16.5L178.3 19.0L176.0 21.2L173.5 22.7L170.5 23.8L167.5 24.3L164.5 24.1L161.5 23.4L159.0 22.2L156.5 20.4L154.2 18.0L152.7 15.5L151.8 13.0L151.3 10.0L151.3 7.0L152.0 4.0L153.3 1.0ZM97.7 14.0L99.5 14.1L101.1 15.0L101.8 16.0L102.2 17.0L102.4 19.0L101.8 21.0L100.5 22.7L99.0 23.6L97.0 23.9L95.5 23.5L94.3 22.5L93.5 21.0L93.3 19.5L93.7 17.5L94.6 16.0L96.0 14.7ZM86.7 57.0L89.0 56.5L91.5 56.7L93.5 57.2L95.6 58.5L97.2 60.0L98.5 62.0L99.4 64.5L99.6 67.0L99.2 69.5L98.4 72.0L97.0 74.6L95.1 77.0L93.0 78.8L90.9 80.0L88.5 80.8L86.0 81.1L84.0 80.8L82.0 80.2L80.5 79.3L78.9 78.0L77.7 76.5L76.7 74.5L76.2 72.5L76.1 70.5L76.5 68.0L77.2 66.0L78.2 64.0L79.5 62.1L81.0 60.5L83.0 58.8L85.0 57.6ZM7.9 67.0L10.5 66.7L13.5 66.9L16.5 67.7L19.1 69.0L21.5 70.8L23.5 73.1L25.0 75.6L26.1 78.5L26.5 81.0L26.4 84.0L25.7 87.0L24.5 89.5L23.0 91.5L20.8 93.5L18.3 95.0L15.5 96.0L13.0 96.4L10.5 96.5L8.0 96.3L5.5 95.6L3.0 94.5L1.0 93.1L-0.7 91.5L-2.0 89.8L-2.0 74.0L-0.1 71.5L2.2 69.5L5.0 67.9ZM140.2 135.0L143.5 134.9L146.5 135.2L149.5 135.9L152.0 136.8L154.5 138.1L157.0 139.9L159.5 142.1L162.0 144.7L170.1 154.5L178.9 164.5L181.2 167.5L183.1 170.5L184.9 174.5L185.9 178.5L186.0 182.5L185.3 186.0L130.3 186.0L124.0 179.0L120.5 176.1L118.5 175.0L116.5 174.2L107.0 171.8L103.0 170.3L101.0 169.2L99.0 167.7L97.5 166.2L96.1 164.5L94.8 162.0L93.9 159.0L93.7 156.5L94.1 153.5L95.1 150.5L96.9 147.5L99.0 145.1L101.5 143.1L105.0 141.3L109.0 140.1L112.5 139.6L123.0 138.4L135.5 135.7Z"/><path fill="#005f87" d="M163.8 0.5L165.5 0.1L167.0 0.0L169.0 0.3L170.5 0.9L172.0 1.8L173.3 3.0L174.4 4.5L175.0 6.0L175.4 7.5L175.5 9.5L175.2 11.0L174.5 12.8L173.5 14.4L172.4 15.5L171.0 16.5L169.5 17.1L168.0 17.5L166.0 17.6L164.0 17.2L162.5 16.5L161.0 15.5L160.0 14.5L159.0 13.0L158.3 11.5L158.0 10.0L157.9 8.0L158.2 6.5L158.8 5.0L159.7 3.5L161.0 2.1L162.5 1.1ZM86.5 62.5L88.0 62.1L89.5 62.1L90.9 62.5L91.8 63.0L93.0 64.0L93.7 65.0L94.1 66.0L94.5 67.5L94.4 69.0L94.0 70.5L93.5 71.7L92.6 73.0L91.6 74.0L90.5 74.8L89.5 75.2L88.0 75.6L86.5 75.7L85.5 75.5L83.5 74.4L82.6 73.5L82.0 72.6L81.4 70.5L81.5 68.0L82.5 65.8L84.0 64.0L85.0 63.2ZM9.5 73.5L11.5 73.3L13.0 73.5L14.5 74.0L16.0 74.8L17.4 76.0L18.5 77.4L19.3 79.0L19.8 80.5L19.9 82.0L19.8 83.5L19.3 85.0L18.5 86.6L17.4 88.0L16.1 89.0L14.5 89.8L13.0 90.3L11.0 90.5L9.5 90.3L8.0 89.9L6.2 89.0L5.0 88.0L3.8 86.5L3.0 85.0L2.6 83.5L2.5 81.5L2.7 80.0L3.2 78.5L4.0 77.1L5.0 75.9L6.5 74.7L8.0 73.9ZM138.0 140.5L141.0 140.1L144.0 140.1L147.0 140.6L150.0 141.6L152.6 143.0L155.5 145.1L158.0 147.4L161.5 151.1L173.6 165.0L176.3 168.5L178.4 172.0L180.0 176.0L180.6 179.5L180.3 183.0L179.3 186.0L135.8 186.0L131.9 181.5L125.5 172.3L122.5 169.3L120.5 167.9L118.5 167.0L110.5 165.0L107.5 163.9L106.0 163.0L104.7 162.0L103.0 159.9L102.4 158.5L102.0 156.8L102.0 155.0L102.4 153.5L103.1 152.0L104.3 150.5L105.5 149.4L107.0 148.4L109.0 147.5L112.0 146.7L120.5 145.6L124.0 144.9L134.2 141.5Z"/><path fill="#0c00f3" d="M140.7 146.0L143.5 145.8L146.5 146.1L149.5 147.2L152.5 148.8L156.0 151.5L159.5 154.7L164.2 159.5L168.5 164.5L171.2 168.0L173.1 171.0L174.5 174.0L175.3 176.5L175.6 179.0L175.4 181.5L174.5 184.0L173.2 186.0L140.9 186.0L138.6 184.0L136.8 182.0L134.9 179.5L133.4 177.0L130.3 170.5L127.2 162.0L126.6 159.5L126.6 157.5L127.1 155.5L128.0 154.0L129.2 152.5L131.4 150.5L133.5 149.0L136.0 147.6L138.5 146.6Z"/><path fill="#2a00da" d="M143.8 152.0L146.5 152.0L149.0 152.6L151.5 153.7L154.5 155.5L158.0 158.3L161.4 161.5L164.5 165.0L167.2 168.5L168.9 171.5L170.0 174.0L170.6 176.5L170.7 178.5L170.4 180.5L169.5 182.5L168.3 184.0L166.5 185.5L165.6 186.0L147.0 186.0L144.5 184.7L142.2 183.0L140.2 181.0L138.5 178.8L136.4 175.0L134.8 170.5L134.1 166.0L134.1 163.5L134.3 161.5L134.8 159.5L135.5 158.0L136.4 156.5L137.6 155.0L139.0 153.8L140.5 153.0L142.0 152.4Z"/><path fill="#4800b2" d="M145.6 158.0L147.5 157.9L149.5 158.1L151.5 158.8L154.0 160.1L156.1 161.5L158.5 163.5L160.9 166.0L162.8 168.5L164.0 170.5L165.0 172.5L165.6 174.5L165.8 176.5L165.5 178.5L164.9 180.0L163.8 181.5L162.5 182.5L160.5 183.6L157.5 184.3L154.5 184.5L151.3 184.0L148.5 183.1L146.0 181.7L143.5 179.6L141.7 177.5L140.1 174.5L139.1 171.5L138.8 168.5L139.0 165.5L140.0 162.5L141.3 160.5L143.0 159.0L144.5 158.3Z"/><path fill="#62008a" d="M147.8 164.0L149.0 163.8L150.5 163.9L153.0 164.8L154.5 165.7L156.0 166.9L158.3 169.5L159.3 171.0L159.9 172.5L160.3 175.0L160.0 176.5L159.5 177.5L158.1 179.0L156.5 179.8L155.0 180.1L153.5 180.2L151.5 179.9L149.5 179.2L148.0 178.3L146.5 177.0L145.3 175.5L144.5 174.0L143.8 172.0L143.6 170.0L143.8 168.5L144.3 167.0L145.3 165.5L146.5 164.5Z"/></g><g clip-path="url(#clip)" fill="none" stroke="#000" stroke-width="0.85" stroke-linejoin="round"><path d="M11.3 53.8L8.7 51.9L7.3 48.4L7.0 43.9L7.3 38.1L8.2 33.6L9.6 29.0L11.3 24.4L13.0 20.4L14.0 19.3L11.9 20.4L9.0 21.9L10.7 19.3L13.0 16.4L15.3 13.0L17.6 10.5L21.0 9.9L25.6 9.5L30.2 9.2L34.2 9.5L38.8 10.1L39.9 10.7L39.3 7.3L41.1 7.0L45.1 7.8L49.6 8.6L54.2 9.3L58.8 10.1L63.4 11.6L65.7 13.5L67.4 17.0L69.2 20.1L72.1 23.7L69.8 27.6L66.4 26.2L63.4 24.2L60.5 22.2L59.0 20.3L59.3 22.7L58.0 26.6L56.6 32.5L55.1 37.4L54.8 39.3L51.4 41.3L50.2 40.4L49.1 35.8L47.9 31.3L46.8 30.1L43.9 31.8L41.1 34.1L39.9 35.3L40.5 32.4L42.2 29.6L43.9 26.7L44.8 22.7L44.1 19.3L41.6 16.4L38.2 14.1L34.8 12.7L32.5 13.0L30.8 15.3L29.1 17.5L26.2 18.9L23.9 19.8L22.2 22.7L20.5 26.7L19.3 31.3L19.0 35.8L19.3 40.4L19.3 45.0L18.2 48.4L16.5 51.9L13.6 53.8ZM47.4 12.1L51.9 13.0L57.1 11.8L55.4 15.8L51.9 14.1ZM14.8 0.6L15.9 2.4L18.8 3.5L22.2 3.2L26.2 2.4L30.2 1.5L33.1 1.5L33.6 3.2L35.9 4.4L37.1 3.8L36.5 1.0L35.9 0.0M41.1 54.9L43.9 53.8L47.4 53.0L50.8 51.3L54.2 50.1L56.5 48.4L59.9 47.5L63.9 47.9L67.4 46.5L71.3 45.8L78.4 45.5L76.7 47.7L73.2 49.7L68.3 52.1L63.4 54.1L58.5 56.6L55.4 58.1L51.9 58.1L47.4 57.3L43.3 56.4ZM72.1 40.2L73.2 37.9L75.7 36.0L79.1 34.7L84.0 33.7L88.9 33.3L93.3 32.5L96.3 30.8L99.9 29.6L99.2 32.5L99.7 36.5L99.2 38.4L95.8 39.4L92.3 40.6L88.9 41.4L86.0 40.6L82.1 40.6L78.1 41.2L74.7 41.8ZM185.0 9.5L181.4 12.4L176.8 14.7L173.4 15.8L169.9 16.4L169.0 18.7L166.5 21.0L163.1 23.8L159.1 26.1L156.2 26.5L155.1 28.4L153.9 30.1L150.5 31.8L147.1 34.1L145.3 36.4L143.6 40.4L142.2 43.9L141.9 47.3L140.8 49.6L142.5 51.9L144.2 54.1L146.5 55.3L148.2 54.7L148.8 52.8L149.1 55.3L147.6 57.0L144.8 57.6L142.5 57.0L140.8 58.1L138.5 56.4L138.0 58.8L136.1 60.3L133.6 61.6L129.7 61.7L125.8 62.2L122.3 63.2L119.4 65.2L117.0 67.6L115.5 69.6L116.0 71.1L117.4 72.0L117.0 75.5L116.0 78.4L114.0 81.8L111.6 84.8L109.6 86.5L108.1 84.8L106.7 82.8L105.2 81.6L105.7 84.3L107.1 87.2L108.8 89.6L109.7 91.9L108.4 94.3L106.5 96.7L105.0 98.7L103.5 102.1L103.0 105.1L102.1 106.1L101.9 104.1L102.5 101.2L103.5 98.7L104.0 97.2L102.1 97.7L100.3 96.7L99.6 94.3L99.1 91.4L99.6 88.4L100.3 85.0L101.1 81.6L99.1 82.0L97.6 84.5L96.7 87.9L96.7 91.4L95.7 93.8L93.7 94.6L95.2 95.8L97.6 96.6L98.1 99.7L98.1 103.6L99.1 107.0L101.1 109.5L102.5 112.4L103.2 115.4L103.5 117.5L101.1 117.3L97.6 118.3L95.2 119.3L98.1 119.1L101.6 118.8L104.0 117.8L104.0 119.8L103.0 122.2L102.1 124.4L100.6 125.2L98.1 126.2L95.7 128.1L94.7 129.6L97.6 129.3L98.1 131.1L95.7 132.5L92.2 133.2L90.3 135.0L87.8 136.9L86.3 138.0L84.1 140.3L81.2 140.8L78.3 142.0L75.5 144.3L73.2 147.1L70.3 150.6L66.9 154.0L62.9 156.3L58.9 159.1L56.0 162.0L54.3 165.4L52.9 169.1L51.1 172.3L51.9 176.8L52.5 181.4L53.1 184.2M107.0 123.2L106.5 126.2L104.5 127.6L102.5 128.6M117.0 68.1L119.9 67.1L123.8 65.9L127.7 64.7L131.7 63.5L133.4 63.7L132.6 65.2L129.7 66.5L125.8 67.6L121.9 68.8L118.4 69.8L116.0 70.1ZM185.0 15.3L181.9 17.0L178.5 20.4L176.6 23.8L176.8 27.3L178.5 30.1L181.9 32.2L185.0 31.3M0.0 173.2L5.6 173.2L8.5 175.7L12.5 178.0L14.5 180.3L15.3 183.1L19.9 182.3L22.8 180.3L27.9 179.4L30.2 182.0L31.9 184.2M135.6 1.0L139.0 0.0"/></g><g font-family="'Liberation Sans',sans-serif" font-size="8.5" fill="#000" text-anchor="middle"><text transform="translate(43.0 24.1) rotate(-60)" y="2.3" font-size="6.5">5</text><text transform="translate(82.2 88.5) rotate(0)" y="3.1" font-size="8.5">-10</text><text transform="translate(112.5 70.9) rotate(-60)" y="2.5" font-size="7.0">-5</text><text transform="translate(138.0 113.9) rotate(-15)" y="3.1" font-size="8.5">0</text><text transform="translate(157.1 114.9) rotate(0)" y="3.1" font-size="8.5">-5</text><text transform="translate(105.5 134.7) rotate(0)" y="3.1" font-size="8.5">-10</text><text transform="translate(108.4 165.9) rotate(0)" y="3.1" font-size="8.5">-15</text></g></g><g transform="translate(281.0 415.6)"><path d="M0 0H184.9V184.2" fill="none" stroke="#4a4a4a" stroke-width="1.15"/><path d="M0 -0.6V184.2H185.5" fill="none" stroke="#0a0a0a" stroke-width="1.4"/><g stroke="#000" stroke-width="1"><path d="M-6.5 16.2H0"/><path d="M-6.5 70.2H0"/><path d="M-6.5 124.3H0"/><path d="M-6.5 178.3H0"/><path d="M56.6 184.2V190.5"/><path d="M139.8 184.2V190.5"/></g><g font-family="'Liberation Sans',sans-serif" fill="#000" stroke="#000" stroke-width="0.3"><text x="-27" y="19.8" font-size="9" textLength="15.4" lengthAdjust="spacingAndGlyphs">45N</text><text x="-27" y="73.8" font-size="9" textLength="15.4" lengthAdjust="spacingAndGlyphs">40N</text><text x="-27" y="127.8" font-size="9" textLength="15.4" lengthAdjust="spacingAndGlyphs">35N</text><text x="-27" y="181.9" font-size="9" textLength="15.4" lengthAdjust="spacingAndGlyphs">30N</text><text x="48.3" y="202.6" font-size="9" textLength="16.6" lengthAdjust="spacingAndGlyphs">80W</text><text x="131.5" y="202.6" font-size="9" textLength="16.6" lengthAdjust="spacingAndGlyphs">70W</text><text x="0" y="-9.2" font-size="10.7" textLength="69.7" lengthAdjust="spacingAndGlyphs">DUMMY DATA</text><text x="150.5" y="-9.2" font-size="10.7" textLength="34.8" lengthAdjust="spacingAndGlyphs">PLOT 4</text></g></g>
</svg></body></html>
